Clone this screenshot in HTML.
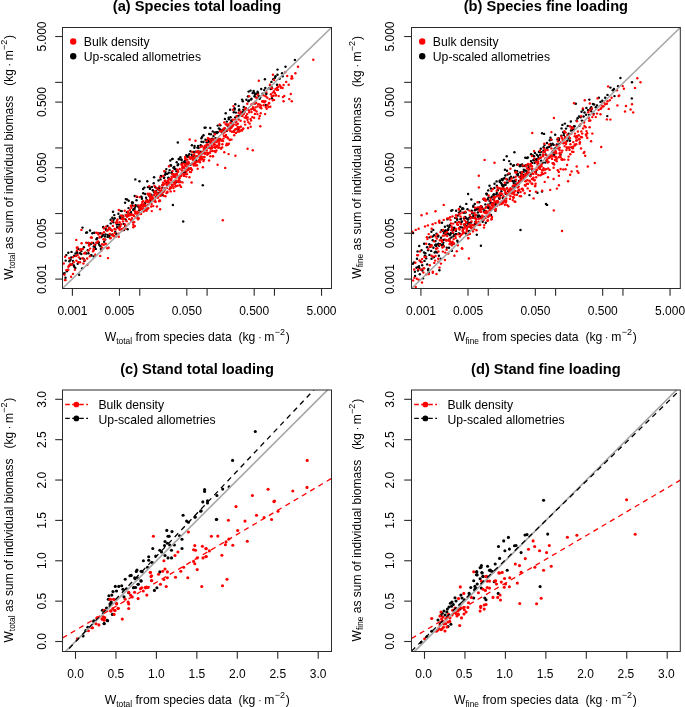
<!DOCTYPE html><html><head><meta charset="utf-8"><style>html,body{margin:0;padding:0;background:#fff;}svg{display:block;will-change:transform;}</style></head><body><svg width="685" height="707" viewBox="0 0 685 707" font-family='"Liberation Sans", sans-serif' font-size="12" fill="#000">
<rect width="685" height="707" fill="#fff"/>
<g fill="#000"><circle cx="63.7" cy="273.8" r="1.22"/><circle cx="64.6" cy="273.1" r="1.22"/><circle cx="65.5" cy="277.7" r="1.22"/><circle cx="65.7" cy="260.6" r="1.22"/><circle cx="66.3" cy="255.1" r="1.22"/><circle cx="66.9" cy="271.3" r="1.22"/><circle cx="68.3" cy="252.8" r="1.22"/><circle cx="68.1" cy="269.6" r="1.22"/><circle cx="69.6" cy="265.2" r="1.22"/><circle cx="69.4" cy="261.3" r="1.22"/><circle cx="70.5" cy="259.7" r="1.22"/><circle cx="71.2" cy="257.5" r="1.22"/><circle cx="71.5" cy="251.9" r="1.22"/><circle cx="72.3" cy="264.1" r="1.22"/><circle cx="73.0" cy="260.9" r="1.22"/><circle cx="73.9" cy="265.5" r="1.22"/><circle cx="74.2" cy="255.7" r="1.22"/><circle cx="74.2" cy="266.7" r="1.22"/><circle cx="75.5" cy="253.4" r="1.22"/><circle cx="75.3" cy="267.9" r="1.22"/><circle cx="76.1" cy="255.7" r="1.22"/><circle cx="76.9" cy="251.4" r="1.22"/><circle cx="77.3" cy="252.9" r="1.22"/><circle cx="77.7" cy="263.7" r="1.22"/><circle cx="78.4" cy="248.9" r="1.22"/><circle cx="79.1" cy="274.7" r="1.22"/><circle cx="80.0" cy="253.2" r="1.22"/><circle cx="80.3" cy="258.8" r="1.22"/><circle cx="81.4" cy="251.1" r="1.22"/><circle cx="81.3" cy="254.0" r="1.22"/><circle cx="82.1" cy="268.5" r="1.22"/><circle cx="82.5" cy="227.6" r="1.22"/><circle cx="83.5" cy="258.6" r="1.22"/><circle cx="83.9" cy="247.3" r="1.22"/><circle cx="84.4" cy="261.0" r="1.22"/><circle cx="85.2" cy="252.7" r="1.22"/><circle cx="86.2" cy="232.7" r="1.22"/><circle cx="86.2" cy="253.5" r="1.22"/><circle cx="87.0" cy="232.4" r="1.22"/><circle cx="87.8" cy="250.2" r="1.22"/><circle cx="88.3" cy="243.0" r="1.22"/><circle cx="88.4" cy="253.3" r="1.22"/><circle cx="89.2" cy="245.1" r="1.22"/><circle cx="90.0" cy="230.5" r="1.22"/><circle cx="90.7" cy="255.4" r="1.22"/><circle cx="91.1" cy="243.7" r="1.22"/><circle cx="91.4" cy="255.2" r="1.22"/><circle cx="92.4" cy="233.3" r="1.22"/><circle cx="93.2" cy="242.9" r="1.22"/><circle cx="93.7" cy="256.4" r="1.22"/><circle cx="93.7" cy="246.5" r="1.22"/><circle cx="94.3" cy="232.8" r="1.22"/><circle cx="95.0" cy="247.1" r="1.22"/><circle cx="95.2" cy="244.7" r="1.22"/><circle cx="95.8" cy="248.9" r="1.22"/><circle cx="96.5" cy="239.2" r="1.22"/><circle cx="97.1" cy="238.2" r="1.22"/><circle cx="98.1" cy="233.3" r="1.22"/><circle cx="97.9" cy="242.9" r="1.22"/><circle cx="98.8" cy="242.5" r="1.22"/><circle cx="99.2" cy="244.8" r="1.22"/><circle cx="100.5" cy="246.2" r="1.22"/><circle cx="100.3" cy="233.2" r="1.22"/><circle cx="100.9" cy="248.9" r="1.22"/><circle cx="101.4" cy="237.0" r="1.22"/><circle cx="102.4" cy="235.9" r="1.22"/><circle cx="103.2" cy="226.9" r="1.22"/><circle cx="103.1" cy="234.8" r="1.22"/><circle cx="104.1" cy="241.8" r="1.22"/><circle cx="104.9" cy="236.5" r="1.22"/><circle cx="105.2" cy="239.6" r="1.22"/><circle cx="105.5" cy="234.5" r="1.22"/><circle cx="105.8" cy="229.1" r="1.22"/><circle cx="106.4" cy="230.3" r="1.22"/><circle cx="107.6" cy="236.9" r="1.22"/><circle cx="107.5" cy="226.0" r="1.22"/><circle cx="107.8" cy="234.9" r="1.22"/><circle cx="109.1" cy="228.2" r="1.22"/><circle cx="109.4" cy="237.0" r="1.22"/><circle cx="109.7" cy="234.8" r="1.22"/><circle cx="110.7" cy="223.4" r="1.22"/><circle cx="110.6" cy="219.7" r="1.22"/><circle cx="111.0" cy="229.8" r="1.22"/><circle cx="112.3" cy="234.4" r="1.22"/><circle cx="112.3" cy="217.7" r="1.22"/><circle cx="113.3" cy="222.3" r="1.22"/><circle cx="113.0" cy="211.7" r="1.22"/><circle cx="113.5" cy="219.8" r="1.22"/><circle cx="114.3" cy="215.1" r="1.22"/><circle cx="114.7" cy="218.2" r="1.22"/><circle cx="115.2" cy="231.9" r="1.22"/><circle cx="116.1" cy="233.8" r="1.22"/><circle cx="116.9" cy="224.5" r="1.22"/><circle cx="117.2" cy="227.2" r="1.22"/><circle cx="117.6" cy="227.4" r="1.22"/><circle cx="118.4" cy="213.8" r="1.22"/><circle cx="119.0" cy="224.6" r="1.22"/><circle cx="119.6" cy="226.8" r="1.22"/><circle cx="119.8" cy="216.8" r="1.22"/><circle cx="120.5" cy="216.2" r="1.22"/><circle cx="120.3" cy="218.3" r="1.22"/><circle cx="120.7" cy="210.9" r="1.22"/><circle cx="121.8" cy="211.1" r="1.22"/><circle cx="122.7" cy="215.8" r="1.22"/><circle cx="122.4" cy="218.2" r="1.22"/><circle cx="123.2" cy="216.6" r="1.22"/><circle cx="123.7" cy="223.9" r="1.22"/><circle cx="123.9" cy="230.1" r="1.22"/><circle cx="125.2" cy="226.1" r="1.22"/><circle cx="125.6" cy="219.5" r="1.22"/><circle cx="125.8" cy="199.1" r="1.22"/><circle cx="125.7" cy="226.1" r="1.22"/><circle cx="127.0" cy="212.2" r="1.22"/><circle cx="127.0" cy="199.5" r="1.22"/><circle cx="127.6" cy="229.2" r="1.22"/><circle cx="128.3" cy="215.6" r="1.22"/><circle cx="128.5" cy="208.1" r="1.22"/><circle cx="128.7" cy="200.7" r="1.22"/><circle cx="129.4" cy="214.8" r="1.22"/><circle cx="129.7" cy="214.0" r="1.22"/><circle cx="130.6" cy="213.3" r="1.22"/><circle cx="131.1" cy="212.1" r="1.22"/><circle cx="132.0" cy="202.7" r="1.22"/><circle cx="132.1" cy="205.5" r="1.22"/><circle cx="132.2" cy="202.4" r="1.22"/><circle cx="132.9" cy="202.7" r="1.22"/><circle cx="133.3" cy="209.9" r="1.22"/><circle cx="133.8" cy="208.9" r="1.22"/><circle cx="134.6" cy="208.7" r="1.22"/><circle cx="134.7" cy="196.0" r="1.22"/><circle cx="135.1" cy="206.8" r="1.22"/><circle cx="135.6" cy="205.1" r="1.22"/><circle cx="136.5" cy="200.2" r="1.22"/><circle cx="136.9" cy="196.9" r="1.22"/><circle cx="137.7" cy="205.6" r="1.22"/><circle cx="137.7" cy="206.2" r="1.22"/><circle cx="138.0" cy="214.8" r="1.22"/><circle cx="139.0" cy="207.5" r="1.22"/><circle cx="139.4" cy="210.3" r="1.22"/><circle cx="139.5" cy="181.2" r="1.22"/><circle cx="140.0" cy="209.3" r="1.22"/><circle cx="141.1" cy="196.8" r="1.22"/><circle cx="140.9" cy="206.9" r="1.22"/><circle cx="141.5" cy="196.9" r="1.22"/><circle cx="141.9" cy="198.7" r="1.22"/><circle cx="142.2" cy="205.4" r="1.22"/><circle cx="143.2" cy="193.2" r="1.22"/><circle cx="143.1" cy="189.0" r="1.22"/><circle cx="144.4" cy="209.1" r="1.22"/><circle cx="144.4" cy="187.6" r="1.22"/><circle cx="145.0" cy="203.2" r="1.22"/><circle cx="145.2" cy="194.0" r="1.22"/><circle cx="146.1" cy="197.8" r="1.22"/><circle cx="146.7" cy="199.9" r="1.22"/><circle cx="146.4" cy="201.4" r="1.22"/><circle cx="147.3" cy="181.3" r="1.22"/><circle cx="147.9" cy="187.1" r="1.22"/><circle cx="148.7" cy="201.7" r="1.22"/><circle cx="149.2" cy="195.7" r="1.22"/><circle cx="149.7" cy="187.4" r="1.22"/><circle cx="149.9" cy="200.4" r="1.22"/><circle cx="150.0" cy="188.9" r="1.22"/><circle cx="150.8" cy="202.4" r="1.22"/><circle cx="151.4" cy="194.8" r="1.22"/><circle cx="151.5" cy="196.2" r="1.22"/><circle cx="151.9" cy="187.0" r="1.22"/><circle cx="152.8" cy="190.3" r="1.22"/><circle cx="153.7" cy="183.3" r="1.22"/><circle cx="154.1" cy="177.2" r="1.22"/><circle cx="153.9" cy="191.7" r="1.22"/><circle cx="154.7" cy="192.7" r="1.22"/><circle cx="155.4" cy="187.3" r="1.22"/><circle cx="155.9" cy="192.4" r="1.22"/><circle cx="155.8" cy="197.0" r="1.22"/><circle cx="156.2" cy="191.1" r="1.22"/><circle cx="157.0" cy="193.5" r="1.22"/><circle cx="157.6" cy="188.7" r="1.22"/><circle cx="158.5" cy="180.5" r="1.22"/><circle cx="159.0" cy="188.3" r="1.22"/><circle cx="158.9" cy="189.7" r="1.22"/><circle cx="159.3" cy="192.7" r="1.22"/><circle cx="160.5" cy="179.4" r="1.22"/><circle cx="160.9" cy="176.0" r="1.22"/><circle cx="161.5" cy="195.3" r="1.22"/><circle cx="161.3" cy="176.3" r="1.22"/><circle cx="162.5" cy="184.9" r="1.22"/><circle cx="162.2" cy="187.6" r="1.22"/><circle cx="162.6" cy="194.8" r="1.22"/><circle cx="163.9" cy="177.7" r="1.22"/><circle cx="164.2" cy="177.6" r="1.22"/><circle cx="164.9" cy="188.8" r="1.22"/><circle cx="165.1" cy="174.8" r="1.22"/><circle cx="165.4" cy="171.7" r="1.22"/><circle cx="165.7" cy="173.8" r="1.22"/><circle cx="166.3" cy="169.1" r="1.22"/><circle cx="167.1" cy="182.6" r="1.22"/><circle cx="167.2" cy="173.9" r="1.22"/><circle cx="168.4" cy="177.6" r="1.22"/><circle cx="168.5" cy="178.3" r="1.22"/><circle cx="168.8" cy="172.8" r="1.22"/><circle cx="169.6" cy="170.1" r="1.22"/><circle cx="170.3" cy="160.5" r="1.22"/><circle cx="170.5" cy="165.3" r="1.22"/><circle cx="171.0" cy="165.5" r="1.22"/><circle cx="171.8" cy="173.3" r="1.22"/><circle cx="171.7" cy="172.2" r="1.22"/><circle cx="172.2" cy="159.0" r="1.22"/><circle cx="172.6" cy="158.9" r="1.22"/><circle cx="173.6" cy="175.0" r="1.22"/><circle cx="173.4" cy="167.7" r="1.22"/><circle cx="174.3" cy="166.9" r="1.22"/><circle cx="174.6" cy="169.0" r="1.22"/><circle cx="175.6" cy="169.2" r="1.22"/><circle cx="175.7" cy="182.3" r="1.22"/><circle cx="176.7" cy="162.3" r="1.22"/><circle cx="176.5" cy="171.2" r="1.22"/><circle cx="177.8" cy="142.5" r="1.22"/><circle cx="177.7" cy="165.3" r="1.22"/><circle cx="178.2" cy="164.3" r="1.22"/><circle cx="178.7" cy="159.0" r="1.22"/><circle cx="179.1" cy="159.2" r="1.22"/><circle cx="180.2" cy="181.7" r="1.22"/><circle cx="180.4" cy="157.2" r="1.22"/><circle cx="181.4" cy="159.5" r="1.22"/><circle cx="181.6" cy="160.1" r="1.22"/><circle cx="181.7" cy="163.8" r="1.22"/><circle cx="182.1" cy="162.7" r="1.22"/><circle cx="182.7" cy="167.8" r="1.22"/><circle cx="183.9" cy="172.7" r="1.22"/><circle cx="184.2" cy="161.9" r="1.22"/><circle cx="184.9" cy="162.9" r="1.22"/><circle cx="185.0" cy="160.6" r="1.22"/><circle cx="185.4" cy="171.8" r="1.22"/><circle cx="186.3" cy="155.1" r="1.22"/><circle cx="186.5" cy="162.8" r="1.22"/><circle cx="187.3" cy="156.5" r="1.22"/><circle cx="187.3" cy="156.4" r="1.22"/><circle cx="188.6" cy="169.5" r="1.22"/><circle cx="188.5" cy="155.7" r="1.22"/><circle cx="188.8" cy="157.0" r="1.22"/><circle cx="189.3" cy="154.1" r="1.22"/><circle cx="190.5" cy="151.2" r="1.22"/><circle cx="190.5" cy="164.7" r="1.22"/><circle cx="191.8" cy="154.6" r="1.22"/><circle cx="192.1" cy="157.2" r="1.22"/><circle cx="191.9" cy="145.3" r="1.22"/><circle cx="192.4" cy="155.2" r="1.22"/><circle cx="193.7" cy="155.7" r="1.22"/><circle cx="193.6" cy="151.9" r="1.22"/><circle cx="194.4" cy="147.7" r="1.22"/><circle cx="194.6" cy="146.0" r="1.22"/><circle cx="195.5" cy="151.7" r="1.22"/><circle cx="196.3" cy="160.5" r="1.22"/><circle cx="196.2" cy="152.1" r="1.22"/><circle cx="197.5" cy="147.6" r="1.22"/><circle cx="198.1" cy="146.0" r="1.22"/><circle cx="198.5" cy="148.0" r="1.22"/><circle cx="199.0" cy="151.6" r="1.22"/><circle cx="199.6" cy="152.5" r="1.22"/><circle cx="199.8" cy="152.3" r="1.22"/><circle cx="200.7" cy="151.7" r="1.22"/><circle cx="200.7" cy="145.2" r="1.22"/><circle cx="201.4" cy="138.2" r="1.22"/><circle cx="201.5" cy="141.7" r="1.22"/><circle cx="202.2" cy="136.8" r="1.22"/><circle cx="203.4" cy="142.0" r="1.22"/><circle cx="203.5" cy="135.3" r="1.22"/><circle cx="203.8" cy="153.0" r="1.22"/><circle cx="204.6" cy="127.7" r="1.22"/><circle cx="205.6" cy="127.6" r="1.22"/><circle cx="205.4" cy="139.8" r="1.22"/><circle cx="206.6" cy="142.2" r="1.22"/><circle cx="206.8" cy="147.9" r="1.22"/><circle cx="207.4" cy="140.0" r="1.22"/><circle cx="208.1" cy="139.7" r="1.22"/><circle cx="208.9" cy="141.7" r="1.22"/><circle cx="208.7" cy="139.4" r="1.22"/><circle cx="209.2" cy="134.0" r="1.22"/><circle cx="210.3" cy="128.0" r="1.22"/><circle cx="210.7" cy="139.5" r="1.22"/><circle cx="210.9" cy="134.2" r="1.22"/><circle cx="211.5" cy="139.2" r="1.22"/><circle cx="212.5" cy="138.8" r="1.22"/><circle cx="212.7" cy="131.4" r="1.22"/><circle cx="213.5" cy="136.1" r="1.22"/><circle cx="214.4" cy="132.7" r="1.22"/><circle cx="214.8" cy="141.3" r="1.22"/><circle cx="215.4" cy="132.4" r="1.22"/><circle cx="215.5" cy="138.1" r="1.22"/><circle cx="216.8" cy="132.2" r="1.22"/><circle cx="216.8" cy="133.0" r="1.22"/><circle cx="217.7" cy="125.6" r="1.22"/><circle cx="217.8" cy="132.2" r="1.22"/><circle cx="218.9" cy="128.4" r="1.22"/><circle cx="220.0" cy="130.7" r="1.22"/><circle cx="220.1" cy="129.5" r="1.22"/><circle cx="220.3" cy="125.2" r="1.22"/><circle cx="221.7" cy="132.1" r="1.22"/><circle cx="222.2" cy="130.3" r="1.22"/><circle cx="222.9" cy="132.5" r="1.22"/><circle cx="223.6" cy="129.5" r="1.22"/><circle cx="223.6" cy="130.4" r="1.22"/><circle cx="224.9" cy="118.9" r="1.22"/><circle cx="224.8" cy="128.4" r="1.22"/><circle cx="225.7" cy="113.3" r="1.22"/><circle cx="226.8" cy="121.6" r="1.22"/><circle cx="226.8" cy="130.8" r="1.22"/><circle cx="227.5" cy="125.5" r="1.22"/><circle cx="228.7" cy="117.7" r="1.22"/><circle cx="228.8" cy="119.2" r="1.22"/><circle cx="230.1" cy="109.7" r="1.22"/><circle cx="230.6" cy="117.3" r="1.22"/><circle cx="231.3" cy="120.4" r="1.22"/><circle cx="231.7" cy="121.5" r="1.22"/><circle cx="232.5" cy="124.3" r="1.22"/><circle cx="233.8" cy="112.3" r="1.22"/><circle cx="234.5" cy="108.2" r="1.22"/><circle cx="235.2" cy="117.4" r="1.22"/><circle cx="235.3" cy="104.3" r="1.22"/><circle cx="235.9" cy="112.6" r="1.22"/><circle cx="237.3" cy="116.1" r="1.22"/><circle cx="237.9" cy="129.6" r="1.22"/><circle cx="238.6" cy="115.9" r="1.22"/><circle cx="239.0" cy="110.4" r="1.22"/><circle cx="240.4" cy="115.1" r="1.22"/><circle cx="241.3" cy="112.6" r="1.22"/><circle cx="242.1" cy="99.6" r="1.22"/><circle cx="242.8" cy="112.1" r="1.22"/><circle cx="243.3" cy="109.7" r="1.22"/><circle cx="244.6" cy="111.1" r="1.22"/><circle cx="245.0" cy="110.2" r="1.22"/><circle cx="246.0" cy="108.5" r="1.22"/><circle cx="246.4" cy="99.8" r="1.22"/><circle cx="247.9" cy="96.4" r="1.22"/><circle cx="248.6" cy="91.6" r="1.22"/><circle cx="249.0" cy="100.4" r="1.22"/><circle cx="250.5" cy="90.6" r="1.22"/><circle cx="251.1" cy="99.6" r="1.22"/><circle cx="252.6" cy="93.1" r="1.22"/><circle cx="253.6" cy="91.0" r="1.22"/><circle cx="254.1" cy="92.5" r="1.22"/><circle cx="255.2" cy="96.6" r="1.22"/><circle cx="256.5" cy="93.7" r="1.22"/><circle cx="257.6" cy="91.8" r="1.22"/><circle cx="258.8" cy="97.6" r="1.22"/><circle cx="259.7" cy="98.8" r="1.22"/><circle cx="261.2" cy="89.0" r="1.22"/><circle cx="262.7" cy="93.7" r="1.22"/><circle cx="264.9" cy="79.2" r="1.22"/><circle cx="266.3" cy="94.0" r="1.22"/><circle cx="268.9" cy="88.3" r="1.22"/><circle cx="271.1" cy="86.2" r="1.22"/><circle cx="273.3" cy="79.3" r="1.22"/><circle cx="277.5" cy="69.6" r="1.22"/><circle cx="294.9" cy="59.9" r="1.22"/><circle cx="285.5" cy="66.8" r="1.22"/><circle cx="282.1" cy="73.2" r="1.22"/><circle cx="282.6" cy="76.3" r="1.22"/><circle cx="277.5" cy="74.7" r="1.22"/><circle cx="275.5" cy="76.3" r="1.22"/><circle cx="275" cy="77.8" r="1.22"/><circle cx="279.6" cy="78.8" r="1.22"/><circle cx="271.4" cy="81.9" r="1.22"/><circle cx="269.9" cy="85" r="1.22"/><circle cx="277" cy="84.8" r="1.22"/><circle cx="271.9" cy="88" r="1.22"/><circle cx="270.9" cy="89" r="1.22"/><circle cx="265.3" cy="88" r="1.22"/><circle cx="264.2" cy="90.1" r="1.22"/><circle cx="266.3" cy="93.1" r="1.22"/><circle cx="258.1" cy="93.1" r="1.22"/><circle cx="255" cy="94.2" r="1.22"/><circle cx="254.5" cy="96.2" r="1.22"/><circle cx="258.6" cy="95.7" r="1.22"/><circle cx="260.1" cy="97.2" r="1.22"/><circle cx="251.5" cy="98.8" r="1.22"/><circle cx="248.4" cy="101.3" r="1.22"/><circle cx="242.8" cy="101.3" r="1.22"/><circle cx="238.7" cy="105.9" r="1.22"/><circle cx="243.8" cy="106.9" r="1.22"/><circle cx="255" cy="103.4" r="1.22"/><circle cx="265.8" cy="104.9" r="1.22"/><circle cx="271.9" cy="98.2" r="1.22"/><circle cx="234.6" cy="109.5" r="1.22"/><circle cx="239.2" cy="109.5" r="1.22"/><circle cx="135.3" cy="179.4" r="1.22"/><circle cx="183.2" cy="221.5" r="1.22"/><circle cx="172.9" cy="205" r="1.22"/><circle cx="125.1" cy="202.7" r="1.22"/><circle cx="202.8" cy="185.2" r="1.22"/></g>
<g fill="#f00"><circle cx="63.7" cy="263.5" r="1.22"/><circle cx="64.5" cy="274.8" r="1.22"/><circle cx="64.9" cy="280.1" r="1.22"/><circle cx="65.6" cy="280.1" r="1.22"/><circle cx="66.3" cy="270.1" r="1.22"/><circle cx="68.0" cy="269.9" r="1.22"/><circle cx="68.4" cy="266.8" r="1.22"/><circle cx="69.0" cy="265.9" r="1.22"/><circle cx="69.3" cy="258.2" r="1.22"/><circle cx="70.3" cy="264.3" r="1.22"/><circle cx="71.1" cy="276.7" r="1.22"/><circle cx="71.8" cy="264.7" r="1.22"/><circle cx="73.0" cy="257.1" r="1.22"/><circle cx="73.0" cy="273.9" r="1.22"/><circle cx="73.7" cy="262.3" r="1.22"/><circle cx="74.9" cy="269.7" r="1.22"/><circle cx="75.7" cy="256.1" r="1.22"/><circle cx="76.4" cy="260.8" r="1.22"/><circle cx="77.1" cy="250.5" r="1.22"/><circle cx="77.6" cy="255.0" r="1.22"/><circle cx="77.5" cy="247.5" r="1.22"/><circle cx="78.3" cy="262.2" r="1.22"/><circle cx="78.9" cy="257.4" r="1.22"/><circle cx="80.0" cy="262.3" r="1.22"/><circle cx="80.3" cy="250.3" r="1.22"/><circle cx="80.9" cy="249.2" r="1.22"/><circle cx="81.6" cy="243.2" r="1.22"/><circle cx="82.4" cy="258.3" r="1.22"/><circle cx="82.9" cy="249.0" r="1.22"/><circle cx="83.4" cy="263.5" r="1.22"/><circle cx="84.2" cy="253.4" r="1.22"/><circle cx="84.8" cy="260.3" r="1.22"/><circle cx="85.3" cy="253.0" r="1.22"/><circle cx="86.2" cy="242.7" r="1.22"/><circle cx="87.4" cy="264.8" r="1.22"/><circle cx="87.2" cy="258.5" r="1.22"/><circle cx="88.6" cy="250.6" r="1.22"/><circle cx="89.0" cy="245.5" r="1.22"/><circle cx="89.0" cy="243.0" r="1.22"/><circle cx="89.9" cy="256.3" r="1.22"/><circle cx="90.1" cy="248.6" r="1.22"/><circle cx="90.9" cy="237.5" r="1.22"/><circle cx="91.8" cy="242.7" r="1.22"/><circle cx="91.9" cy="237.7" r="1.22"/><circle cx="93.0" cy="251.3" r="1.22"/><circle cx="93.9" cy="250.0" r="1.22"/><circle cx="93.6" cy="248.9" r="1.22"/><circle cx="94.4" cy="245.0" r="1.22"/><circle cx="95.3" cy="254.7" r="1.22"/><circle cx="96.3" cy="232.7" r="1.22"/><circle cx="96.6" cy="242.7" r="1.22"/><circle cx="96.5" cy="242.6" r="1.22"/><circle cx="97.8" cy="233.0" r="1.22"/><circle cx="98.1" cy="241.4" r="1.22"/><circle cx="98.5" cy="234.5" r="1.22"/><circle cx="99.5" cy="237.5" r="1.22"/><circle cx="100.0" cy="236.9" r="1.22"/><circle cx="100.2" cy="255.9" r="1.22"/><circle cx="101.3" cy="250.7" r="1.22"/><circle cx="101.8" cy="233.5" r="1.22"/><circle cx="102.1" cy="247.6" r="1.22"/><circle cx="102.1" cy="244.2" r="1.22"/><circle cx="103.5" cy="239.2" r="1.22"/><circle cx="103.7" cy="244.8" r="1.22"/><circle cx="103.9" cy="228.2" r="1.22"/><circle cx="104.0" cy="232.3" r="1.22"/><circle cx="105.0" cy="239.6" r="1.22"/><circle cx="105.6" cy="244.1" r="1.22"/><circle cx="105.7" cy="243.6" r="1.22"/><circle cx="106.1" cy="226.8" r="1.22"/><circle cx="107.3" cy="248.2" r="1.22"/><circle cx="107.2" cy="230.5" r="1.22"/><circle cx="107.5" cy="230.2" r="1.22"/><circle cx="108.6" cy="247.7" r="1.22"/><circle cx="108.8" cy="229.1" r="1.22"/><circle cx="109.5" cy="227.7" r="1.22"/><circle cx="109.8" cy="233.9" r="1.22"/><circle cx="110.0" cy="229.3" r="1.22"/><circle cx="110.2" cy="238.3" r="1.22"/><circle cx="110.7" cy="237.9" r="1.22"/><circle cx="111.8" cy="230.2" r="1.22"/><circle cx="112.1" cy="230.7" r="1.22"/><circle cx="112.4" cy="235.3" r="1.22"/><circle cx="112.1" cy="221.2" r="1.22"/><circle cx="112.9" cy="225.9" r="1.22"/><circle cx="113.0" cy="234.8" r="1.22"/><circle cx="113.9" cy="236.2" r="1.22"/><circle cx="114.5" cy="236.1" r="1.22"/><circle cx="114.7" cy="233.1" r="1.22"/><circle cx="114.5" cy="229.0" r="1.22"/><circle cx="115.5" cy="229.5" r="1.22"/><circle cx="115.9" cy="222.8" r="1.22"/><circle cx="116.2" cy="236.6" r="1.22"/><circle cx="116.9" cy="220.9" r="1.22"/><circle cx="117.3" cy="222.7" r="1.22"/><circle cx="117.3" cy="222.4" r="1.22"/><circle cx="117.5" cy="219.4" r="1.22"/><circle cx="118.4" cy="233.7" r="1.22"/><circle cx="118.5" cy="228.3" r="1.22"/><circle cx="118.8" cy="236.8" r="1.22"/><circle cx="118.8" cy="210.0" r="1.22"/><circle cx="119.4" cy="227.6" r="1.22"/><circle cx="119.6" cy="222.2" r="1.22"/><circle cx="119.7" cy="229.7" r="1.22"/><circle cx="120.5" cy="226.1" r="1.22"/><circle cx="121.1" cy="224.1" r="1.22"/><circle cx="121.4" cy="229.1" r="1.22"/><circle cx="121.1" cy="215.5" r="1.22"/><circle cx="121.9" cy="218.9" r="1.22"/><circle cx="122.6" cy="230.3" r="1.22"/><circle cx="123.0" cy="221.4" r="1.22"/><circle cx="122.6" cy="216.2" r="1.22"/><circle cx="123.3" cy="218.4" r="1.22"/><circle cx="123.4" cy="228.5" r="1.22"/><circle cx="124.2" cy="218.9" r="1.22"/><circle cx="124.7" cy="210.7" r="1.22"/><circle cx="124.6" cy="227.9" r="1.22"/><circle cx="125.0" cy="224.4" r="1.22"/><circle cx="125.7" cy="228.6" r="1.22"/><circle cx="125.6" cy="214.9" r="1.22"/><circle cx="126.0" cy="225.9" r="1.22"/><circle cx="126.6" cy="221.2" r="1.22"/><circle cx="126.2" cy="216.1" r="1.22"/><circle cx="127.1" cy="215.3" r="1.22"/><circle cx="127.1" cy="216.8" r="1.22"/><circle cx="127.8" cy="211.8" r="1.22"/><circle cx="128.0" cy="215.8" r="1.22"/><circle cx="128.2" cy="214.9" r="1.22"/><circle cx="128.2" cy="211.7" r="1.22"/><circle cx="128.3" cy="213.3" r="1.22"/><circle cx="128.7" cy="223.9" r="1.22"/><circle cx="129.1" cy="218.9" r="1.22"/><circle cx="129.6" cy="215.4" r="1.22"/><circle cx="130.0" cy="210.0" r="1.22"/><circle cx="130.5" cy="214.3" r="1.22"/><circle cx="130.7" cy="219.6" r="1.22"/><circle cx="131.2" cy="220.9" r="1.22"/><circle cx="130.8" cy="205.7" r="1.22"/><circle cx="131.7" cy="215.1" r="1.22"/><circle cx="131.4" cy="207.8" r="1.22"/><circle cx="132.2" cy="214.6" r="1.22"/><circle cx="132.1" cy="218.1" r="1.22"/><circle cx="132.0" cy="220.3" r="1.22"/><circle cx="133.3" cy="224.7" r="1.22"/><circle cx="133.1" cy="222.5" r="1.22"/><circle cx="133.0" cy="214.9" r="1.22"/><circle cx="133.3" cy="227.3" r="1.22"/><circle cx="134.0" cy="215.9" r="1.22"/><circle cx="133.9" cy="205.8" r="1.22"/><circle cx="134.9" cy="226.1" r="1.22"/><circle cx="134.3" cy="222.1" r="1.22"/><circle cx="134.9" cy="211.3" r="1.22"/><circle cx="135.3" cy="213.5" r="1.22"/><circle cx="135.8" cy="212.9" r="1.22"/><circle cx="135.5" cy="213.1" r="1.22"/><circle cx="135.8" cy="217.6" r="1.22"/><circle cx="136.4" cy="196.4" r="1.22"/><circle cx="136.9" cy="217.2" r="1.22"/><circle cx="137.1" cy="216.2" r="1.22"/><circle cx="137.7" cy="214.3" r="1.22"/><circle cx="137.3" cy="211.6" r="1.22"/><circle cx="138.1" cy="219.3" r="1.22"/><circle cx="138.4" cy="213.1" r="1.22"/><circle cx="138.6" cy="218.2" r="1.22"/><circle cx="138.8" cy="213.0" r="1.22"/><circle cx="138.4" cy="205.6" r="1.22"/><circle cx="139.3" cy="208.1" r="1.22"/><circle cx="139.6" cy="197.1" r="1.22"/><circle cx="139.9" cy="214.0" r="1.22"/><circle cx="140.4" cy="209.5" r="1.22"/><circle cx="140.5" cy="207.4" r="1.22"/><circle cx="140.6" cy="208.5" r="1.22"/><circle cx="140.5" cy="205.3" r="1.22"/><circle cx="140.9" cy="207.1" r="1.22"/><circle cx="141.1" cy="213.9" r="1.22"/><circle cx="142.0" cy="209.1" r="1.22"/><circle cx="142.3" cy="206.1" r="1.22"/><circle cx="142.2" cy="209.0" r="1.22"/><circle cx="141.9" cy="204.2" r="1.22"/><circle cx="142.3" cy="202.1" r="1.22"/><circle cx="143.0" cy="201.3" r="1.22"/><circle cx="143.2" cy="208.1" r="1.22"/><circle cx="143.3" cy="209.9" r="1.22"/><circle cx="143.5" cy="211.5" r="1.22"/><circle cx="143.7" cy="205.7" r="1.22"/><circle cx="143.9" cy="204.2" r="1.22"/><circle cx="144.3" cy="205.3" r="1.22"/><circle cx="145.2" cy="206.1" r="1.22"/><circle cx="144.6" cy="210.5" r="1.22"/><circle cx="145.7" cy="201.5" r="1.22"/><circle cx="145.5" cy="205.3" r="1.22"/><circle cx="146.3" cy="209.4" r="1.22"/><circle cx="146.2" cy="207.8" r="1.22"/><circle cx="146.0" cy="208.0" r="1.22"/><circle cx="146.6" cy="210.7" r="1.22"/><circle cx="146.8" cy="200.5" r="1.22"/><circle cx="147.2" cy="201.7" r="1.22"/><circle cx="147.8" cy="208.7" r="1.22"/><circle cx="147.8" cy="193.8" r="1.22"/><circle cx="148.1" cy="194.6" r="1.22"/><circle cx="148.0" cy="204.9" r="1.22"/><circle cx="148.4" cy="208.1" r="1.22"/><circle cx="148.9" cy="201.3" r="1.22"/><circle cx="149.3" cy="186.1" r="1.22"/><circle cx="148.7" cy="202.4" r="1.22"/><circle cx="149.5" cy="195.3" r="1.22"/><circle cx="149.7" cy="193.8" r="1.22"/><circle cx="150.0" cy="196.3" r="1.22"/><circle cx="150.0" cy="199.3" r="1.22"/><circle cx="150.6" cy="195.1" r="1.22"/><circle cx="150.2" cy="197.6" r="1.22"/><circle cx="151.2" cy="206.5" r="1.22"/><circle cx="151.1" cy="197.7" r="1.22"/><circle cx="151.6" cy="204.0" r="1.22"/><circle cx="151.5" cy="199.5" r="1.22"/><circle cx="151.8" cy="211.1" r="1.22"/><circle cx="151.7" cy="197.1" r="1.22"/><circle cx="152.5" cy="197.3" r="1.22"/><circle cx="152.8" cy="197.7" r="1.22"/><circle cx="152.6" cy="200.4" r="1.22"/><circle cx="152.7" cy="199.5" r="1.22"/><circle cx="153.2" cy="206.1" r="1.22"/><circle cx="153.5" cy="199.4" r="1.22"/><circle cx="154.1" cy="194.9" r="1.22"/><circle cx="154.6" cy="191.5" r="1.22"/><circle cx="154.7" cy="199.5" r="1.22"/><circle cx="154.5" cy="186.0" r="1.22"/><circle cx="154.6" cy="201.2" r="1.22"/><circle cx="155.0" cy="200.6" r="1.22"/><circle cx="155.1" cy="192.9" r="1.22"/><circle cx="155.9" cy="191.7" r="1.22"/><circle cx="155.6" cy="201.9" r="1.22"/><circle cx="156.5" cy="188.3" r="1.22"/><circle cx="156.4" cy="194.1" r="1.22"/><circle cx="157.1" cy="193.7" r="1.22"/><circle cx="156.9" cy="196.5" r="1.22"/><circle cx="156.7" cy="195.8" r="1.22"/><circle cx="156.9" cy="206.5" r="1.22"/><circle cx="157.2" cy="196.9" r="1.22"/><circle cx="157.6" cy="197.5" r="1.22"/><circle cx="158.1" cy="197.6" r="1.22"/><circle cx="158.8" cy="189.8" r="1.22"/><circle cx="158.5" cy="194.8" r="1.22"/><circle cx="159.2" cy="201.3" r="1.22"/><circle cx="159.4" cy="186.4" r="1.22"/><circle cx="159.6" cy="200.4" r="1.22"/><circle cx="160.0" cy="200.7" r="1.22"/><circle cx="160.1" cy="193.2" r="1.22"/><circle cx="159.9" cy="193.0" r="1.22"/><circle cx="160.1" cy="209.2" r="1.22"/><circle cx="160.2" cy="195.8" r="1.22"/><circle cx="160.3" cy="177.4" r="1.22"/><circle cx="160.6" cy="191.0" r="1.22"/><circle cx="160.8" cy="194.9" r="1.22"/><circle cx="161.5" cy="188.1" r="1.22"/><circle cx="161.4" cy="190.3" r="1.22"/><circle cx="161.7" cy="194.0" r="1.22"/><circle cx="161.8" cy="192.8" r="1.22"/><circle cx="162.1" cy="193.0" r="1.22"/><circle cx="163.0" cy="182.8" r="1.22"/><circle cx="162.7" cy="185.3" r="1.22"/><circle cx="163.1" cy="192.0" r="1.22"/><circle cx="163.3" cy="176.0" r="1.22"/><circle cx="163.9" cy="184.4" r="1.22"/><circle cx="163.9" cy="191.4" r="1.22"/><circle cx="164.2" cy="171.2" r="1.22"/><circle cx="163.8" cy="195.9" r="1.22"/><circle cx="164.8" cy="180.6" r="1.22"/><circle cx="164.4" cy="190.3" r="1.22"/><circle cx="165.4" cy="183.4" r="1.22"/><circle cx="165.4" cy="188.2" r="1.22"/><circle cx="165.1" cy="180.7" r="1.22"/><circle cx="165.2" cy="181.6" r="1.22"/><circle cx="165.5" cy="196.2" r="1.22"/><circle cx="166.4" cy="193.1" r="1.22"/><circle cx="166.9" cy="185.4" r="1.22"/><circle cx="167.0" cy="184.6" r="1.22"/><circle cx="167.3" cy="191.7" r="1.22"/><circle cx="167.4" cy="192.5" r="1.22"/><circle cx="167.0" cy="188.1" r="1.22"/><circle cx="167.4" cy="181.4" r="1.22"/><circle cx="167.8" cy="183.2" r="1.22"/><circle cx="167.9" cy="180.8" r="1.22"/><circle cx="168.2" cy="181.5" r="1.22"/><circle cx="168.8" cy="178.9" r="1.22"/><circle cx="168.9" cy="184.0" r="1.22"/><circle cx="169.0" cy="166.3" r="1.22"/><circle cx="169.4" cy="182.8" r="1.22"/><circle cx="169.5" cy="189.2" r="1.22"/><circle cx="169.4" cy="179.0" r="1.22"/><circle cx="169.7" cy="184.0" r="1.22"/><circle cx="170.3" cy="179.3" r="1.22"/><circle cx="170.7" cy="183.7" r="1.22"/><circle cx="170.9" cy="188.0" r="1.22"/><circle cx="170.4" cy="187.3" r="1.22"/><circle cx="170.7" cy="191.4" r="1.22"/><circle cx="171.5" cy="178.7" r="1.22"/><circle cx="171.1" cy="180.4" r="1.22"/><circle cx="171.6" cy="176.8" r="1.22"/><circle cx="171.9" cy="184.9" r="1.22"/><circle cx="172.4" cy="185.5" r="1.22"/><circle cx="172.3" cy="174.0" r="1.22"/><circle cx="172.5" cy="171.1" r="1.22"/><circle cx="173.0" cy="182.2" r="1.22"/><circle cx="172.5" cy="186.2" r="1.22"/><circle cx="172.9" cy="174.0" r="1.22"/><circle cx="173.5" cy="176.9" r="1.22"/><circle cx="173.4" cy="188.1" r="1.22"/><circle cx="174.3" cy="184.1" r="1.22"/><circle cx="173.8" cy="174.8" r="1.22"/><circle cx="174.8" cy="181.9" r="1.22"/><circle cx="174.3" cy="191.1" r="1.22"/><circle cx="174.9" cy="175.5" r="1.22"/><circle cx="175.1" cy="177.0" r="1.22"/><circle cx="175.1" cy="183.6" r="1.22"/><circle cx="175.1" cy="174.2" r="1.22"/><circle cx="175.3" cy="186.5" r="1.22"/><circle cx="176.0" cy="180.6" r="1.22"/><circle cx="176.6" cy="174.6" r="1.22"/><circle cx="176.0" cy="186.0" r="1.22"/><circle cx="176.4" cy="177.7" r="1.22"/><circle cx="177.1" cy="169.6" r="1.22"/><circle cx="177.0" cy="173.8" r="1.22"/><circle cx="177.7" cy="176.1" r="1.22"/><circle cx="177.6" cy="181.7" r="1.22"/><circle cx="177.6" cy="185.8" r="1.22"/><circle cx="178.2" cy="171.8" r="1.22"/><circle cx="177.8" cy="170.4" r="1.22"/><circle cx="178.4" cy="181.0" r="1.22"/><circle cx="178.7" cy="176.7" r="1.22"/><circle cx="178.9" cy="179.4" r="1.22"/><circle cx="179.5" cy="178.3" r="1.22"/><circle cx="179.2" cy="182.2" r="1.22"/><circle cx="179.7" cy="181.7" r="1.22"/><circle cx="179.7" cy="168.9" r="1.22"/><circle cx="179.8" cy="185.2" r="1.22"/><circle cx="180.2" cy="182.0" r="1.22"/><circle cx="180.3" cy="175.9" r="1.22"/><circle cx="180.4" cy="176.6" r="1.22"/><circle cx="181.0" cy="186.9" r="1.22"/><circle cx="181.3" cy="175.7" r="1.22"/><circle cx="180.9" cy="175.5" r="1.22"/><circle cx="181.5" cy="164.7" r="1.22"/><circle cx="181.7" cy="170.4" r="1.22"/><circle cx="181.7" cy="173.2" r="1.22"/><circle cx="182.5" cy="170.4" r="1.22"/><circle cx="182.5" cy="182.4" r="1.22"/><circle cx="182.3" cy="167.7" r="1.22"/><circle cx="182.9" cy="163.6" r="1.22"/><circle cx="182.6" cy="166.3" r="1.22"/><circle cx="183.7" cy="171.2" r="1.22"/><circle cx="183.3" cy="166.9" r="1.22"/><circle cx="184.0" cy="175.9" r="1.22"/><circle cx="184.0" cy="167.9" r="1.22"/><circle cx="183.6" cy="174.3" r="1.22"/><circle cx="184.8" cy="163.9" r="1.22"/><circle cx="184.5" cy="174.8" r="1.22"/><circle cx="185.1" cy="157.0" r="1.22"/><circle cx="185.3" cy="173.9" r="1.22"/><circle cx="185.6" cy="169.3" r="1.22"/><circle cx="185.2" cy="165.8" r="1.22"/><circle cx="185.2" cy="158.5" r="1.22"/><circle cx="186.1" cy="159.4" r="1.22"/><circle cx="186.3" cy="176.6" r="1.22"/><circle cx="186.5" cy="171.5" r="1.22"/><circle cx="186.3" cy="168.5" r="1.22"/><circle cx="187.0" cy="166.8" r="1.22"/><circle cx="187.2" cy="164.5" r="1.22"/><circle cx="187.1" cy="162.5" r="1.22"/><circle cx="187.1" cy="174.1" r="1.22"/><circle cx="188.1" cy="169.2" r="1.22"/><circle cx="187.4" cy="159.7" r="1.22"/><circle cx="188.0" cy="169.7" r="1.22"/><circle cx="188.4" cy="167.8" r="1.22"/><circle cx="188.3" cy="163.3" r="1.22"/><circle cx="189.0" cy="164.3" r="1.22"/><circle cx="188.7" cy="162.1" r="1.22"/><circle cx="189.7" cy="139.5" r="1.22"/><circle cx="189.4" cy="177.3" r="1.22"/><circle cx="189.6" cy="157.0" r="1.22"/><circle cx="189.9" cy="171.9" r="1.22"/><circle cx="190.3" cy="158.7" r="1.22"/><circle cx="190.3" cy="168.8" r="1.22"/><circle cx="191.0" cy="172.1" r="1.22"/><circle cx="191.0" cy="168.7" r="1.22"/><circle cx="190.9" cy="168.2" r="1.22"/><circle cx="191.4" cy="164.1" r="1.22"/><circle cx="191.1" cy="157.9" r="1.22"/><circle cx="191.6" cy="182.5" r="1.22"/><circle cx="191.9" cy="170.0" r="1.22"/><circle cx="191.7" cy="157.3" r="1.22"/><circle cx="192.2" cy="163.3" r="1.22"/><circle cx="192.3" cy="151.9" r="1.22"/><circle cx="192.8" cy="157.6" r="1.22"/><circle cx="193.2" cy="159.9" r="1.22"/><circle cx="192.7" cy="159.4" r="1.22"/><circle cx="193.5" cy="163.8" r="1.22"/><circle cx="193.2" cy="155.0" r="1.22"/><circle cx="193.5" cy="157.9" r="1.22"/><circle cx="194.3" cy="154.1" r="1.22"/><circle cx="193.8" cy="165.6" r="1.22"/><circle cx="194.9" cy="158.4" r="1.22"/><circle cx="194.7" cy="158.4" r="1.22"/><circle cx="194.9" cy="162.1" r="1.22"/><circle cx="194.6" cy="159.3" r="1.22"/><circle cx="195.2" cy="163.7" r="1.22"/><circle cx="195.5" cy="140.7" r="1.22"/><circle cx="196.1" cy="156.2" r="1.22"/><circle cx="195.7" cy="165.5" r="1.22"/><circle cx="196.2" cy="162.1" r="1.22"/><circle cx="196.3" cy="151.9" r="1.22"/><circle cx="196.2" cy="161.7" r="1.22"/><circle cx="197.0" cy="165.2" r="1.22"/><circle cx="197.5" cy="151.3" r="1.22"/><circle cx="197.7" cy="168.8" r="1.22"/><circle cx="197.4" cy="151.9" r="1.22"/><circle cx="197.5" cy="156.3" r="1.22"/><circle cx="197.6" cy="152.1" r="1.22"/><circle cx="197.9" cy="161.6" r="1.22"/><circle cx="198.9" cy="151.7" r="1.22"/><circle cx="199.0" cy="159.9" r="1.22"/><circle cx="199.0" cy="156.4" r="1.22"/><circle cx="198.8" cy="153.8" r="1.22"/><circle cx="199.2" cy="153.4" r="1.22"/><circle cx="199.7" cy="159.8" r="1.22"/><circle cx="200.1" cy="154.3" r="1.22"/><circle cx="200.2" cy="155.9" r="1.22"/><circle cx="200.0" cy="158.0" r="1.22"/><circle cx="200.0" cy="162.3" r="1.22"/><circle cx="200.6" cy="147.0" r="1.22"/><circle cx="200.7" cy="153.1" r="1.22"/><circle cx="201.1" cy="154.2" r="1.22"/><circle cx="201.1" cy="159.6" r="1.22"/><circle cx="201.7" cy="156.7" r="1.22"/><circle cx="201.9" cy="152.9" r="1.22"/><circle cx="201.7" cy="152.3" r="1.22"/><circle cx="202.1" cy="152.4" r="1.22"/><circle cx="202.1" cy="158.8" r="1.22"/><circle cx="202.3" cy="146.3" r="1.22"/><circle cx="202.9" cy="153.3" r="1.22"/><circle cx="203.5" cy="161.0" r="1.22"/><circle cx="202.9" cy="167.3" r="1.22"/><circle cx="203.6" cy="150.8" r="1.22"/><circle cx="203.8" cy="157.3" r="1.22"/><circle cx="203.8" cy="148.0" r="1.22"/><circle cx="203.9" cy="151.4" r="1.22"/><circle cx="204.1" cy="159.6" r="1.22"/><circle cx="204.2" cy="149.3" r="1.22"/><circle cx="204.5" cy="156.9" r="1.22"/><circle cx="204.6" cy="147.5" r="1.22"/><circle cx="205.4" cy="152.9" r="1.22"/><circle cx="205.3" cy="153.9" r="1.22"/><circle cx="205.2" cy="145.6" r="1.22"/><circle cx="205.9" cy="149.4" r="1.22"/><circle cx="205.9" cy="146.2" r="1.22"/><circle cx="206.6" cy="150.4" r="1.22"/><circle cx="206.3" cy="148.9" r="1.22"/><circle cx="206.8" cy="144.5" r="1.22"/><circle cx="206.8" cy="140.9" r="1.22"/><circle cx="207.3" cy="154.7" r="1.22"/><circle cx="207.3" cy="152.8" r="1.22"/><circle cx="208.0" cy="138.1" r="1.22"/><circle cx="208.2" cy="138.8" r="1.22"/><circle cx="207.8" cy="144.5" r="1.22"/><circle cx="208.7" cy="147.8" r="1.22"/><circle cx="208.6" cy="145.2" r="1.22"/><circle cx="208.2" cy="153.8" r="1.22"/><circle cx="208.9" cy="146.4" r="1.22"/><circle cx="209.1" cy="160.5" r="1.22"/><circle cx="209.8" cy="153.1" r="1.22"/><circle cx="209.4" cy="152.9" r="1.22"/><circle cx="209.9" cy="138.9" r="1.22"/><circle cx="210.4" cy="143.1" r="1.22"/><circle cx="210.2" cy="140.6" r="1.22"/><circle cx="210.3" cy="148.2" r="1.22"/><circle cx="210.3" cy="156.2" r="1.22"/><circle cx="210.7" cy="151.2" r="1.22"/><circle cx="210.6" cy="148.2" r="1.22"/><circle cx="210.9" cy="142.2" r="1.22"/><circle cx="211.8" cy="142.2" r="1.22"/><circle cx="211.4" cy="145.8" r="1.22"/><circle cx="211.7" cy="148.5" r="1.22"/><circle cx="212.4" cy="147.3" r="1.22"/><circle cx="212.6" cy="151.0" r="1.22"/><circle cx="212.4" cy="139.5" r="1.22"/><circle cx="212.9" cy="156.2" r="1.22"/><circle cx="213.3" cy="139.8" r="1.22"/><circle cx="212.9" cy="156.3" r="1.22"/><circle cx="213.7" cy="144.8" r="1.22"/><circle cx="213.8" cy="144.1" r="1.22"/><circle cx="214.4" cy="147.2" r="1.22"/><circle cx="214.3" cy="151.1" r="1.22"/><circle cx="214.8" cy="134.2" r="1.22"/><circle cx="214.2" cy="141.7" r="1.22"/><circle cx="214.6" cy="141.1" r="1.22"/><circle cx="214.9" cy="144.5" r="1.22"/><circle cx="215.3" cy="147.8" r="1.22"/><circle cx="215.8" cy="139.3" r="1.22"/><circle cx="215.5" cy="152.0" r="1.22"/><circle cx="216.4" cy="150.5" r="1.22"/><circle cx="216.4" cy="141.7" r="1.22"/><circle cx="216.1" cy="146.8" r="1.22"/><circle cx="217.1" cy="145.6" r="1.22"/><circle cx="216.7" cy="142.1" r="1.22"/><circle cx="217.2" cy="146.0" r="1.22"/><circle cx="217.1" cy="146.2" r="1.22"/><circle cx="217.5" cy="139.7" r="1.22"/><circle cx="218.2" cy="140.5" r="1.22"/><circle cx="217.6" cy="164.8" r="1.22"/><circle cx="218.0" cy="139.2" r="1.22"/><circle cx="218.5" cy="138.7" r="1.22"/><circle cx="218.3" cy="147.7" r="1.22"/><circle cx="219.1" cy="143.3" r="1.22"/><circle cx="219.6" cy="124.4" r="1.22"/><circle cx="219.4" cy="141.0" r="1.22"/><circle cx="219.2" cy="144.7" r="1.22"/><circle cx="219.5" cy="147.5" r="1.22"/><circle cx="220.0" cy="131.1" r="1.22"/><circle cx="219.9" cy="139.0" r="1.22"/><circle cx="220.6" cy="139.5" r="1.22"/><circle cx="221.1" cy="148.7" r="1.22"/><circle cx="221.4" cy="131.3" r="1.22"/><circle cx="221.8" cy="131.6" r="1.22"/><circle cx="221.8" cy="140.4" r="1.22"/><circle cx="222.2" cy="147.4" r="1.22"/><circle cx="221.9" cy="140.5" r="1.22"/><circle cx="222.4" cy="144.2" r="1.22"/><circle cx="222.4" cy="130.5" r="1.22"/><circle cx="223.2" cy="131.9" r="1.22"/><circle cx="223.2" cy="133.6" r="1.22"/><circle cx="223.5" cy="138.6" r="1.22"/><circle cx="223.1" cy="141.1" r="1.22"/><circle cx="223.6" cy="128.7" r="1.22"/><circle cx="223.9" cy="136.0" r="1.22"/><circle cx="224.2" cy="132.2" r="1.22"/><circle cx="224.3" cy="122.5" r="1.22"/><circle cx="224.3" cy="152.2" r="1.22"/><circle cx="224.7" cy="128.3" r="1.22"/><circle cx="225.4" cy="136.7" r="1.22"/><circle cx="225.8" cy="124.4" r="1.22"/><circle cx="225.3" cy="131.4" r="1.22"/><circle cx="226.0" cy="134.9" r="1.22"/><circle cx="226.3" cy="145.3" r="1.22"/><circle cx="226.8" cy="143.7" r="1.22"/><circle cx="226.7" cy="124.1" r="1.22"/><circle cx="227.1" cy="125.0" r="1.22"/><circle cx="227.3" cy="137.3" r="1.22"/><circle cx="227.5" cy="130.0" r="1.22"/><circle cx="227.7" cy="144.9" r="1.22"/><circle cx="228.0" cy="138.4" r="1.22"/><circle cx="228.6" cy="154.1" r="1.22"/><circle cx="228.6" cy="128.1" r="1.22"/><circle cx="228.9" cy="143.7" r="1.22"/><circle cx="228.5" cy="124.4" r="1.22"/><circle cx="229.1" cy="126.5" r="1.22"/><circle cx="229.8" cy="140.0" r="1.22"/><circle cx="229.9" cy="128.7" r="1.22"/><circle cx="230.3" cy="131.0" r="1.22"/><circle cx="230.0" cy="139.7" r="1.22"/><circle cx="230.8" cy="128.0" r="1.22"/><circle cx="230.5" cy="122.8" r="1.22"/><circle cx="231.2" cy="126.1" r="1.22"/><circle cx="230.9" cy="123.0" r="1.22"/><circle cx="231.5" cy="139.6" r="1.22"/><circle cx="232.0" cy="131.7" r="1.22"/><circle cx="231.5" cy="127.6" r="1.22"/><circle cx="232.6" cy="125.6" r="1.22"/><circle cx="232.4" cy="126.2" r="1.22"/><circle cx="232.9" cy="109.7" r="1.22"/><circle cx="232.8" cy="119.7" r="1.22"/><circle cx="233.7" cy="124.6" r="1.22"/><circle cx="233.5" cy="106.1" r="1.22"/><circle cx="233.7" cy="132.1" r="1.22"/><circle cx="234.2" cy="131.9" r="1.22"/><circle cx="234.0" cy="130.6" r="1.22"/><circle cx="234.2" cy="135.3" r="1.22"/><circle cx="235.3" cy="129.6" r="1.22"/><circle cx="235.6" cy="122.6" r="1.22"/><circle cx="235.6" cy="129.1" r="1.22"/><circle cx="235.3" cy="119.8" r="1.22"/><circle cx="235.9" cy="133.0" r="1.22"/><circle cx="236.3" cy="121.6" r="1.22"/><circle cx="236.3" cy="125.0" r="1.22"/><circle cx="236.5" cy="116.2" r="1.22"/><circle cx="236.8" cy="129.0" r="1.22"/><circle cx="237.7" cy="131.8" r="1.22"/><circle cx="237.8" cy="127.0" r="1.22"/><circle cx="237.8" cy="123.8" r="1.22"/><circle cx="238.1" cy="127.3" r="1.22"/><circle cx="238.6" cy="113.0" r="1.22"/><circle cx="238.6" cy="119.5" r="1.22"/><circle cx="238.9" cy="127.1" r="1.22"/><circle cx="239.6" cy="130.8" r="1.22"/><circle cx="239.1" cy="128.5" r="1.22"/><circle cx="239.4" cy="131.6" r="1.22"/><circle cx="240.3" cy="114.1" r="1.22"/><circle cx="240.7" cy="111.7" r="1.22"/><circle cx="240.6" cy="120.7" r="1.22"/><circle cx="240.9" cy="126.7" r="1.22"/><circle cx="241.7" cy="130.1" r="1.22"/><circle cx="242.0" cy="115.9" r="1.22"/><circle cx="242.0" cy="130.4" r="1.22"/><circle cx="241.6" cy="130.2" r="1.22"/><circle cx="242.1" cy="114.7" r="1.22"/><circle cx="242.4" cy="116.1" r="1.22"/><circle cx="243.1" cy="114.2" r="1.22"/><circle cx="242.9" cy="129.1" r="1.22"/><circle cx="243.3" cy="128.5" r="1.22"/><circle cx="244.0" cy="113.1" r="1.22"/><circle cx="243.6" cy="113.9" r="1.22"/><circle cx="244.8" cy="111.7" r="1.22"/><circle cx="244.7" cy="117.6" r="1.22"/><circle cx="244.6" cy="121.7" r="1.22"/><circle cx="244.9" cy="110.1" r="1.22"/><circle cx="245.2" cy="124.6" r="1.22"/><circle cx="246.1" cy="117.9" r="1.22"/><circle cx="246.1" cy="115.9" r="1.22"/><circle cx="246.5" cy="109.1" r="1.22"/><circle cx="247.1" cy="114.1" r="1.22"/><circle cx="247.5" cy="119.8" r="1.22"/><circle cx="247.3" cy="103.8" r="1.22"/><circle cx="247.6" cy="148.7" r="1.22"/><circle cx="247.7" cy="117.5" r="1.22"/><circle cx="248.0" cy="128.0" r="1.22"/><circle cx="248.2" cy="122.1" r="1.22"/><circle cx="249.1" cy="96.3" r="1.22"/><circle cx="248.8" cy="110.2" r="1.22"/><circle cx="249.2" cy="112.2" r="1.22"/><circle cx="249.7" cy="123.6" r="1.22"/><circle cx="250.7" cy="126.8" r="1.22"/><circle cx="250.6" cy="118.9" r="1.22"/><circle cx="251.1" cy="109.4" r="1.22"/><circle cx="251.1" cy="120.6" r="1.22"/><circle cx="251.5" cy="112.0" r="1.22"/><circle cx="251.5" cy="104.5" r="1.22"/><circle cx="252.3" cy="108.9" r="1.22"/><circle cx="252.3" cy="117.1" r="1.22"/><circle cx="252.9" cy="107.1" r="1.22"/><circle cx="253.5" cy="103.5" r="1.22"/><circle cx="254.2" cy="109.9" r="1.22"/><circle cx="254.1" cy="117.8" r="1.22"/><circle cx="254.3" cy="103.0" r="1.22"/><circle cx="254.9" cy="113.9" r="1.22"/><circle cx="255.2" cy="101.7" r="1.22"/><circle cx="255.1" cy="110.3" r="1.22"/><circle cx="256.2" cy="103.0" r="1.22"/><circle cx="256.6" cy="111.5" r="1.22"/><circle cx="256.2" cy="97.8" r="1.22"/><circle cx="257.4" cy="114.1" r="1.22"/><circle cx="257.7" cy="94.8" r="1.22"/><circle cx="257.4" cy="97.9" r="1.22"/><circle cx="258.3" cy="104.2" r="1.22"/><circle cx="258.8" cy="80.7" r="1.22"/><circle cx="259.1" cy="118.4" r="1.22"/><circle cx="259.7" cy="116.0" r="1.22"/><circle cx="260.3" cy="126.2" r="1.22"/><circle cx="260.6" cy="105.5" r="1.22"/><circle cx="260.7" cy="113.2" r="1.22"/><circle cx="260.8" cy="105.8" r="1.22"/><circle cx="261.3" cy="108.2" r="1.22"/><circle cx="262.3" cy="101.2" r="1.22"/><circle cx="262.4" cy="101.6" r="1.22"/><circle cx="263.1" cy="101.6" r="1.22"/><circle cx="263.5" cy="95.3" r="1.22"/><circle cx="263.6" cy="105.2" r="1.22"/><circle cx="264.4" cy="102.2" r="1.22"/><circle cx="265.1" cy="114.1" r="1.22"/><circle cx="265.3" cy="101.3" r="1.22"/><circle cx="265.6" cy="96.3" r="1.22"/><circle cx="266.2" cy="91.9" r="1.22"/><circle cx="266.7" cy="108.8" r="1.22"/><circle cx="267.5" cy="105.2" r="1.22"/><circle cx="268.5" cy="107.0" r="1.22"/><circle cx="269.2" cy="103.0" r="1.22"/><circle cx="269.6" cy="99.1" r="1.22"/><circle cx="270.1" cy="84.8" r="1.22"/><circle cx="270.3" cy="106.8" r="1.22"/><circle cx="271.3" cy="87.9" r="1.22"/><circle cx="272.2" cy="88.6" r="1.22"/><circle cx="272.9" cy="100.2" r="1.22"/><circle cx="274.0" cy="99.9" r="1.22"/><circle cx="274.1" cy="79.9" r="1.22"/><circle cx="275.6" cy="95.4" r="1.22"/><circle cx="277.0" cy="87.9" r="1.22"/><circle cx="278.0" cy="89.9" r="1.22"/><circle cx="278.7" cy="96.1" r="1.22"/><circle cx="280.8" cy="87.7" r="1.22"/><circle cx="282.9" cy="97.1" r="1.22"/><circle cx="285.2" cy="72.3" r="1.22"/><circle cx="288.7" cy="84.8" r="1.22"/><circle cx="313.3" cy="59.8" r="1.22"/><circle cx="298" cy="66.8" r="1.22"/><circle cx="295.4" cy="73.2" r="1.22"/><circle cx="287.2" cy="76" r="1.22"/><circle cx="291.8" cy="76.3" r="1.22"/><circle cx="291.3" cy="78.6" r="1.22"/><circle cx="292.3" cy="78.3" r="1.22"/><circle cx="272.9" cy="74.7" r="1.22"/><circle cx="286.2" cy="81.9" r="1.22"/><circle cx="283.6" cy="85" r="1.22"/><circle cx="279.6" cy="85" r="1.22"/><circle cx="278" cy="87" r="1.22"/><circle cx="280.6" cy="86.5" r="1.22"/><circle cx="282.6" cy="88" r="1.22"/><circle cx="275.5" cy="89" r="1.22"/><circle cx="274" cy="91.1" r="1.22"/><circle cx="277" cy="90.1" r="1.22"/><circle cx="275" cy="93.1" r="1.22"/><circle cx="272.9" cy="92.6" r="1.22"/><circle cx="270.9" cy="94.2" r="1.22"/><circle cx="276" cy="95.2" r="1.22"/><circle cx="273.4" cy="95.7" r="1.22"/><circle cx="271.9" cy="96.2" r="1.22"/><circle cx="284.2" cy="96" r="1.22"/><circle cx="290.8" cy="94" r="1.22"/><circle cx="289.3" cy="99.1" r="1.22"/><circle cx="291.8" cy="101.3" r="1.22"/><circle cx="283.6" cy="101.3" r="1.22"/><circle cx="267.3" cy="97.7" r="1.22"/><circle cx="263.7" cy="101.3" r="1.22"/><circle cx="268.8" cy="103.4" r="1.22"/><circle cx="259.6" cy="104.4" r="1.22"/><circle cx="257.6" cy="106.4" r="1.22"/><circle cx="260.1" cy="107.4" r="1.22"/><circle cx="255.5" cy="107.4" r="1.22"/><circle cx="253.5" cy="108.4" r="1.22"/><circle cx="265.8" cy="107" r="1.22"/><circle cx="245.3" cy="108" r="1.22"/><circle cx="81.4" cy="229.9" r="1.22"/><circle cx="76.3" cy="239.9" r="1.22"/><circle cx="76.8" cy="247.8" r="1.22"/><circle cx="65.1" cy="256.8" r="1.22"/><circle cx="108" cy="258.1" r="1.22"/><circle cx="222.8" cy="220.3" r="1.22"/><circle cx="252.8" cy="150.2" r="1.22"/><circle cx="225.2" cy="167.9" r="1.22"/><circle cx="235.4" cy="155.7" r="1.22"/></g>
<line x1="62.50" y1="288.50" x2="331.50" y2="27.50" stroke="#a6a6a6" stroke-width="1.6"/>
<rect x="62.50" y="27.50" width="269.00" height="261.00" fill="none" stroke="#2b2b2b" stroke-width="1"/>
<line x1="72.40" y1="288.50" x2="72.40" y2="295.80" stroke="#2b2b2b" stroke-width="1.1"/>
<line x1="55.20" y1="279.10" x2="62.50" y2="279.10" stroke="#2b2b2b" stroke-width="1.1"/>
<line x1="119.48" y1="288.50" x2="119.48" y2="295.80" stroke="#2b2b2b" stroke-width="1.1"/>
<line x1="55.20" y1="233.26" x2="62.50" y2="233.26" stroke="#2b2b2b" stroke-width="1.1"/>
<line x1="139.75" y1="288.50" x2="139.75" y2="295.80" stroke="#2b2b2b" stroke-width="1.1"/>
<line x1="55.20" y1="213.52" x2="62.50" y2="213.52" stroke="#2b2b2b" stroke-width="1.1"/>
<line x1="186.83" y1="288.50" x2="186.83" y2="295.80" stroke="#2b2b2b" stroke-width="1.1"/>
<line x1="55.20" y1="167.68" x2="62.50" y2="167.68" stroke="#2b2b2b" stroke-width="1.1"/>
<line x1="207.10" y1="288.50" x2="207.10" y2="295.80" stroke="#2b2b2b" stroke-width="1.1"/>
<line x1="55.20" y1="147.94" x2="62.50" y2="147.94" stroke="#2b2b2b" stroke-width="1.1"/>
<line x1="254.18" y1="288.50" x2="254.18" y2="295.80" stroke="#2b2b2b" stroke-width="1.1"/>
<line x1="55.20" y1="102.10" x2="62.50" y2="102.10" stroke="#2b2b2b" stroke-width="1.1"/>
<line x1="274.45" y1="288.50" x2="274.45" y2="295.80" stroke="#2b2b2b" stroke-width="1.1"/>
<line x1="55.20" y1="82.36" x2="62.50" y2="82.36" stroke="#2b2b2b" stroke-width="1.1"/>
<line x1="321.53" y1="288.50" x2="321.53" y2="295.80" stroke="#2b2b2b" stroke-width="1.1"/>
<line x1="55.20" y1="36.52" x2="62.50" y2="36.52" stroke="#2b2b2b" stroke-width="1.1"/>
<text x="72.40" y="314.90" text-anchor="middle">0.001</text>
<text x="45.80" y="279.10" text-anchor="middle" transform="rotate(-90 45.80 279.10)">0.001</text>
<text x="119.48" y="314.90" text-anchor="middle">0.005</text>
<text x="45.80" y="233.26" text-anchor="middle" transform="rotate(-90 45.80 233.26)">0.005</text>
<text x="186.83" y="314.90" text-anchor="middle">0.050</text>
<text x="45.80" y="167.68" text-anchor="middle" transform="rotate(-90 45.80 167.68)">0.050</text>
<text x="254.18" y="314.90" text-anchor="middle">0.500</text>
<text x="45.80" y="102.10" text-anchor="middle" transform="rotate(-90 45.80 102.10)">0.500</text>
<text x="321.53" y="314.90" text-anchor="middle">5.000</text>
<text x="45.80" y="36.52" text-anchor="middle" transform="rotate(-90 45.80 36.52)">5.000</text>
<text x="197.00" y="11.10" text-anchor="middle" font-weight="bold" font-size="14.65">(a) Species total loading</text>
<text x="197.30" y="341.10" text-anchor="middle" font-size="12.2">W<tspan font-size="8.4" dy="2.5">total</tspan><tspan dy="-2.5"> from species data&#160;&#160;(kg</tspan><tspan font-size="10"> · </tspan>m<tspan font-size="9" dy="-5.8" dx="0.3">−2</tspan><tspan dy="5.8" dx="0.8">)</tspan></text>
<text x="12.80" y="157.35" text-anchor="middle" transform="rotate(-90 12.80 157.35)">W<tspan font-size="8.4" dy="2.5">total</tspan><tspan dy="-2.5"> as sum of individual biomass&#160;&#160;&#160;(kg</tspan><tspan font-size="10"> · </tspan>m<tspan font-size="9" dy="-5.8" dx="0.3">−2</tspan><tspan dy="5.8" dx="0.8">)</tspan></text>
<circle cx="73.20" cy="41.5" r="3.2" fill="#ff0000"/>
<circle cx="73.20" cy="56.3" r="3.2" fill="#000"/>
<text x="83.80" y="46.0" font-size="12.2">Bulk density</text>
<text x="83.80" y="61.0" font-size="12.2">Up-scaled allometries</text>
<g fill="#000"><circle cx="413.1" cy="233.0" r="1.22"/><circle cx="412.9" cy="263.7" r="1.22"/><circle cx="414.0" cy="262.4" r="1.22"/><circle cx="414.9" cy="271.8" r="1.22"/><circle cx="415.1" cy="275.9" r="1.22"/><circle cx="416.5" cy="267.8" r="1.22"/><circle cx="417.0" cy="258.7" r="1.22"/><circle cx="417.6" cy="251.4" r="1.22"/><circle cx="417.9" cy="267.1" r="1.22"/><circle cx="418.0" cy="270.6" r="1.22"/><circle cx="419.2" cy="246.0" r="1.22"/><circle cx="418.9" cy="266.1" r="1.22"/><circle cx="419.3" cy="268.0" r="1.22"/><circle cx="419.8" cy="274.2" r="1.22"/><circle cx="420.7" cy="261.5" r="1.22"/><circle cx="421.7" cy="269.6" r="1.22"/><circle cx="421.5" cy="250.3" r="1.22"/><circle cx="422.2" cy="265.2" r="1.22"/><circle cx="422.3" cy="270.5" r="1.22"/><circle cx="423.0" cy="278.2" r="1.22"/><circle cx="424.1" cy="243.7" r="1.22"/><circle cx="424.0" cy="252.5" r="1.22"/><circle cx="424.5" cy="260.9" r="1.22"/><circle cx="424.8" cy="255.7" r="1.22"/><circle cx="425.4" cy="253.3" r="1.22"/><circle cx="426.0" cy="256.6" r="1.22"/><circle cx="426.2" cy="258.4" r="1.22"/><circle cx="427.1" cy="247.2" r="1.22"/><circle cx="427.2" cy="264.4" r="1.22"/><circle cx="428.0" cy="270.1" r="1.22"/><circle cx="428.1" cy="250.3" r="1.22"/><circle cx="428.7" cy="272.3" r="1.22"/><circle cx="428.3" cy="268.9" r="1.22"/><circle cx="429.3" cy="244.2" r="1.22"/><circle cx="429.5" cy="237.4" r="1.22"/><circle cx="429.5" cy="254.9" r="1.22"/><circle cx="430.1" cy="246.8" r="1.22"/><circle cx="431.2" cy="250.9" r="1.22"/><circle cx="431.2" cy="245.3" r="1.22"/><circle cx="431.4" cy="231.7" r="1.22"/><circle cx="431.5" cy="258.8" r="1.22"/><circle cx="432.7" cy="240.2" r="1.22"/><circle cx="432.6" cy="236.6" r="1.22"/><circle cx="433.4" cy="247.7" r="1.22"/><circle cx="433.3" cy="229.9" r="1.22"/><circle cx="434.0" cy="235.2" r="1.22"/><circle cx="433.8" cy="257.2" r="1.22"/><circle cx="434.7" cy="252.5" r="1.22"/><circle cx="435.3" cy="245.3" r="1.22"/><circle cx="435.5" cy="241.1" r="1.22"/><circle cx="435.7" cy="251.8" r="1.22"/><circle cx="435.9" cy="244.5" r="1.22"/><circle cx="436.3" cy="246.1" r="1.22"/><circle cx="436.4" cy="233.8" r="1.22"/><circle cx="437.0" cy="252.6" r="1.22"/><circle cx="437.5" cy="244.6" r="1.22"/><circle cx="438.1" cy="236.5" r="1.22"/><circle cx="438.3" cy="235.6" r="1.22"/><circle cx="438.4" cy="243.7" r="1.22"/><circle cx="439.1" cy="245.8" r="1.22"/><circle cx="438.9" cy="255.8" r="1.22"/><circle cx="439.4" cy="270.3" r="1.22"/><circle cx="439.5" cy="244.6" r="1.22"/><circle cx="440.6" cy="258.8" r="1.22"/><circle cx="440.0" cy="244.1" r="1.22"/><circle cx="441.0" cy="237.7" r="1.22"/><circle cx="440.8" cy="244.7" r="1.22"/><circle cx="441.5" cy="230.1" r="1.22"/><circle cx="442.0" cy="245.2" r="1.22"/><circle cx="442.0" cy="222.8" r="1.22"/><circle cx="442.9" cy="244.6" r="1.22"/><circle cx="443.0" cy="239.9" r="1.22"/><circle cx="442.8" cy="230.8" r="1.22"/><circle cx="443.3" cy="242.8" r="1.22"/><circle cx="443.8" cy="233.1" r="1.22"/><circle cx="443.8" cy="246.3" r="1.22"/><circle cx="444.8" cy="231.7" r="1.22"/><circle cx="444.9" cy="226.7" r="1.22"/><circle cx="444.7" cy="239.6" r="1.22"/><circle cx="445.5" cy="230.8" r="1.22"/><circle cx="445.6" cy="230.5" r="1.22"/><circle cx="445.7" cy="233.9" r="1.22"/><circle cx="446.4" cy="240.2" r="1.22"/><circle cx="446.8" cy="247.8" r="1.22"/><circle cx="447.6" cy="225.8" r="1.22"/><circle cx="447.4" cy="219.4" r="1.22"/><circle cx="448.1" cy="229.2" r="1.22"/><circle cx="448.0" cy="229.9" r="1.22"/><circle cx="448.1" cy="233.8" r="1.22"/><circle cx="449.0" cy="247.8" r="1.22"/><circle cx="449.2" cy="227.2" r="1.22"/><circle cx="449.8" cy="235.1" r="1.22"/><circle cx="449.9" cy="225.3" r="1.22"/><circle cx="449.9" cy="238.6" r="1.22"/><circle cx="450.3" cy="234.5" r="1.22"/><circle cx="450.8" cy="233.3" r="1.22"/><circle cx="451.3" cy="210.7" r="1.22"/><circle cx="451.4" cy="243.7" r="1.22"/><circle cx="451.4" cy="237.4" r="1.22"/><circle cx="451.9" cy="250.7" r="1.22"/><circle cx="452.4" cy="210.1" r="1.22"/><circle cx="452.6" cy="230.6" r="1.22"/><circle cx="453.1" cy="233.0" r="1.22"/><circle cx="453.6" cy="236.2" r="1.22"/><circle cx="453.4" cy="244.1" r="1.22"/><circle cx="453.8" cy="229.4" r="1.22"/><circle cx="454.2" cy="227.6" r="1.22"/><circle cx="454.3" cy="234.9" r="1.22"/><circle cx="454.6" cy="229.0" r="1.22"/><circle cx="455.2" cy="217.9" r="1.22"/><circle cx="455.4" cy="222.1" r="1.22"/><circle cx="455.9" cy="233.9" r="1.22"/><circle cx="455.9" cy="230.9" r="1.22"/><circle cx="456.1" cy="210.7" r="1.22"/><circle cx="456.9" cy="218.8" r="1.22"/><circle cx="457.3" cy="240.8" r="1.22"/><circle cx="457.2" cy="219.7" r="1.22"/><circle cx="457.8" cy="242.1" r="1.22"/><circle cx="457.8" cy="215.6" r="1.22"/><circle cx="458.9" cy="212.6" r="1.22"/><circle cx="458.8" cy="233.5" r="1.22"/><circle cx="459.6" cy="233.6" r="1.22"/><circle cx="459.0" cy="222.1" r="1.22"/><circle cx="460.1" cy="227.2" r="1.22"/><circle cx="460.3" cy="210.9" r="1.22"/><circle cx="460.2" cy="206.8" r="1.22"/><circle cx="460.5" cy="219.2" r="1.22"/><circle cx="461.0" cy="218.6" r="1.22"/><circle cx="461.1" cy="222.6" r="1.22"/><circle cx="461.9" cy="227.4" r="1.22"/><circle cx="462.2" cy="209.0" r="1.22"/><circle cx="461.9" cy="221.5" r="1.22"/><circle cx="462.5" cy="208.1" r="1.22"/><circle cx="463.3" cy="208.8" r="1.22"/><circle cx="462.8" cy="231.1" r="1.22"/><circle cx="463.9" cy="212.8" r="1.22"/><circle cx="463.4" cy="228.4" r="1.22"/><circle cx="464.0" cy="218.5" r="1.22"/><circle cx="464.3" cy="224.6" r="1.22"/><circle cx="464.6" cy="224.9" r="1.22"/><circle cx="465.3" cy="216.9" r="1.22"/><circle cx="465.8" cy="233.5" r="1.22"/><circle cx="465.6" cy="212.6" r="1.22"/><circle cx="465.7" cy="217.9" r="1.22"/><circle cx="466.3" cy="203.9" r="1.22"/><circle cx="466.5" cy="225.8" r="1.22"/><circle cx="467.5" cy="209.2" r="1.22"/><circle cx="467.1" cy="218.7" r="1.22"/><circle cx="468.1" cy="194.0" r="1.22"/><circle cx="467.5" cy="221.7" r="1.22"/><circle cx="468.2" cy="219.5" r="1.22"/><circle cx="468.1" cy="223.7" r="1.22"/><circle cx="468.9" cy="231.3" r="1.22"/><circle cx="469.3" cy="223.0" r="1.22"/><circle cx="469.4" cy="217.6" r="1.22"/><circle cx="469.5" cy="230.9" r="1.22"/><circle cx="470.3" cy="217.2" r="1.22"/><circle cx="470.2" cy="226.7" r="1.22"/><circle cx="471.0" cy="222.5" r="1.22"/><circle cx="471.2" cy="227.5" r="1.22"/><circle cx="471.3" cy="199.5" r="1.22"/><circle cx="471.7" cy="210.7" r="1.22"/><circle cx="472.0" cy="211.4" r="1.22"/><circle cx="472.2" cy="213.4" r="1.22"/><circle cx="472.5" cy="217.5" r="1.22"/><circle cx="473.3" cy="216.0" r="1.22"/><circle cx="473.2" cy="206.8" r="1.22"/><circle cx="473.4" cy="205.8" r="1.22"/><circle cx="473.5" cy="213.6" r="1.22"/><circle cx="474.7" cy="224.1" r="1.22"/><circle cx="474.8" cy="203.9" r="1.22"/><circle cx="474.9" cy="210.2" r="1.22"/><circle cx="475.1" cy="217.6" r="1.22"/><circle cx="475.4" cy="221.8" r="1.22"/><circle cx="476.1" cy="209.4" r="1.22"/><circle cx="476.0" cy="223.9" r="1.22"/><circle cx="476.9" cy="209.2" r="1.22"/><circle cx="476.8" cy="234.7" r="1.22"/><circle cx="477.2" cy="215.6" r="1.22"/><circle cx="477.3" cy="208.7" r="1.22"/><circle cx="478.2" cy="217.0" r="1.22"/><circle cx="478.5" cy="215.8" r="1.22"/><circle cx="477.9" cy="212.5" r="1.22"/><circle cx="479.0" cy="207.8" r="1.22"/><circle cx="479.2" cy="210.1" r="1.22"/><circle cx="479.2" cy="215.8" r="1.22"/><circle cx="479.2" cy="202.3" r="1.22"/><circle cx="479.7" cy="210.0" r="1.22"/><circle cx="479.9" cy="207.6" r="1.22"/><circle cx="480.8" cy="206.3" r="1.22"/><circle cx="480.5" cy="217.0" r="1.22"/><circle cx="480.9" cy="245.7" r="1.22"/><circle cx="481.4" cy="207.1" r="1.22"/><circle cx="481.7" cy="206.8" r="1.22"/><circle cx="482.7" cy="221.8" r="1.22"/><circle cx="482.2" cy="218.3" r="1.22"/><circle cx="482.6" cy="208.6" r="1.22"/><circle cx="482.9" cy="219.2" r="1.22"/><circle cx="483.6" cy="199.1" r="1.22"/><circle cx="483.5" cy="209.5" r="1.22"/><circle cx="484.0" cy="199.6" r="1.22"/><circle cx="484.2" cy="211.8" r="1.22"/><circle cx="485.2" cy="210.9" r="1.22"/><circle cx="484.7" cy="216.9" r="1.22"/><circle cx="485.4" cy="204.4" r="1.22"/><circle cx="485.7" cy="200.0" r="1.22"/><circle cx="485.8" cy="222.7" r="1.22"/><circle cx="486.4" cy="193.6" r="1.22"/><circle cx="486.8" cy="194.5" r="1.22"/><circle cx="486.8" cy="194.0" r="1.22"/><circle cx="487.7" cy="199.3" r="1.22"/><circle cx="488.2" cy="207.7" r="1.22"/><circle cx="488.1" cy="204.6" r="1.22"/><circle cx="488.2" cy="190.4" r="1.22"/><circle cx="488.5" cy="206.7" r="1.22"/><circle cx="488.6" cy="197.4" r="1.22"/><circle cx="489.5" cy="208.3" r="1.22"/><circle cx="489.5" cy="185.8" r="1.22"/><circle cx="489.6" cy="201.0" r="1.22"/><circle cx="490.4" cy="203.4" r="1.22"/><circle cx="491.1" cy="214.9" r="1.22"/><circle cx="490.9" cy="188.5" r="1.22"/><circle cx="491.2" cy="197.7" r="1.22"/><circle cx="491.5" cy="202.9" r="1.22"/><circle cx="491.9" cy="196.7" r="1.22"/><circle cx="492.0" cy="203.4" r="1.22"/><circle cx="492.9" cy="203.3" r="1.22"/><circle cx="493.4" cy="199.5" r="1.22"/><circle cx="493.4" cy="194.9" r="1.22"/><circle cx="493.9" cy="194.3" r="1.22"/><circle cx="494.0" cy="196.8" r="1.22"/><circle cx="494.5" cy="183.8" r="1.22"/><circle cx="494.4" cy="187.9" r="1.22"/><circle cx="494.8" cy="205.2" r="1.22"/><circle cx="495.5" cy="204.3" r="1.22"/><circle cx="495.5" cy="210.8" r="1.22"/><circle cx="496.2" cy="194.5" r="1.22"/><circle cx="496.6" cy="181.4" r="1.22"/><circle cx="496.8" cy="185.7" r="1.22"/><circle cx="496.7" cy="202.4" r="1.22"/><circle cx="496.8" cy="192.9" r="1.22"/><circle cx="497.9" cy="202.1" r="1.22"/><circle cx="497.6" cy="190.3" r="1.22"/><circle cx="498.2" cy="188.4" r="1.22"/><circle cx="498.5" cy="195.1" r="1.22"/><circle cx="499.2" cy="198.1" r="1.22"/><circle cx="499.4" cy="198.7" r="1.22"/><circle cx="500.0" cy="180.6" r="1.22"/><circle cx="499.7" cy="180.9" r="1.22"/><circle cx="499.8" cy="182.1" r="1.22"/><circle cx="500.5" cy="195.3" r="1.22"/><circle cx="501.3" cy="183.3" r="1.22"/><circle cx="501.7" cy="179.1" r="1.22"/><circle cx="501.4" cy="191.2" r="1.22"/><circle cx="502.0" cy="185.0" r="1.22"/><circle cx="502.4" cy="180.3" r="1.22"/><circle cx="502.9" cy="198.0" r="1.22"/><circle cx="503.2" cy="186.9" r="1.22"/><circle cx="502.8" cy="186.9" r="1.22"/><circle cx="504.0" cy="185.3" r="1.22"/><circle cx="503.5" cy="178.7" r="1.22"/><circle cx="504.6" cy="178.1" r="1.22"/><circle cx="504.9" cy="169.8" r="1.22"/><circle cx="505.3" cy="175.5" r="1.22"/><circle cx="505.6" cy="193.7" r="1.22"/><circle cx="505.2" cy="189.6" r="1.22"/><circle cx="505.6" cy="184.8" r="1.22"/><circle cx="506.7" cy="156.2" r="1.22"/><circle cx="506.4" cy="182.6" r="1.22"/><circle cx="507.0" cy="170.7" r="1.22"/><circle cx="507.0" cy="179.6" r="1.22"/><circle cx="507.7" cy="182.6" r="1.22"/><circle cx="507.6" cy="174.6" r="1.22"/><circle cx="508.0" cy="191.1" r="1.22"/><circle cx="509.2" cy="161.1" r="1.22"/><circle cx="509.5" cy="189.6" r="1.22"/><circle cx="509.7" cy="178.1" r="1.22"/><circle cx="509.6" cy="179.9" r="1.22"/><circle cx="509.7" cy="173.8" r="1.22"/><circle cx="510.9" cy="177.3" r="1.22"/><circle cx="510.7" cy="164.0" r="1.22"/><circle cx="510.9" cy="176.7" r="1.22"/><circle cx="512.0" cy="191.9" r="1.22"/><circle cx="512.5" cy="180.9" r="1.22"/><circle cx="512.8" cy="186.4" r="1.22"/><circle cx="513.0" cy="165.8" r="1.22"/><circle cx="512.9" cy="181.3" r="1.22"/><circle cx="513.7" cy="177.4" r="1.22"/><circle cx="514.0" cy="165.2" r="1.22"/><circle cx="513.8" cy="183.1" r="1.22"/><circle cx="514.7" cy="180.7" r="1.22"/><circle cx="515.0" cy="170.7" r="1.22"/><circle cx="514.9" cy="187.2" r="1.22"/><circle cx="515.3" cy="181.4" r="1.22"/><circle cx="515.6" cy="186.6" r="1.22"/><circle cx="516.1" cy="184.3" r="1.22"/><circle cx="517.1" cy="174.4" r="1.22"/><circle cx="517.1" cy="171.3" r="1.22"/><circle cx="517.2" cy="164.8" r="1.22"/><circle cx="517.8" cy="173.8" r="1.22"/><circle cx="518.1" cy="175.4" r="1.22"/><circle cx="518.2" cy="192.5" r="1.22"/><circle cx="518.9" cy="180.9" r="1.22"/><circle cx="519.9" cy="166.3" r="1.22"/><circle cx="520.2" cy="164.9" r="1.22"/><circle cx="520.3" cy="172.4" r="1.22"/><circle cx="521.0" cy="178.3" r="1.22"/><circle cx="520.9" cy="176.2" r="1.22"/><circle cx="521.3" cy="173.0" r="1.22"/><circle cx="522.2" cy="172.3" r="1.22"/><circle cx="522.4" cy="166.1" r="1.22"/><circle cx="522.1" cy="164.5" r="1.22"/><circle cx="523.0" cy="175.0" r="1.22"/><circle cx="523.8" cy="169.7" r="1.22"/><circle cx="523.6" cy="171.9" r="1.22"/><circle cx="524.3" cy="176.0" r="1.22"/><circle cx="524.0" cy="166.1" r="1.22"/><circle cx="525.3" cy="157.7" r="1.22"/><circle cx="525.6" cy="165.1" r="1.22"/><circle cx="525.3" cy="170.5" r="1.22"/><circle cx="526.5" cy="170.9" r="1.22"/><circle cx="526.8" cy="173.0" r="1.22"/><circle cx="527.1" cy="158.0" r="1.22"/><circle cx="527.8" cy="157.5" r="1.22"/><circle cx="527.9" cy="164.8" r="1.22"/><circle cx="528.0" cy="174.6" r="1.22"/><circle cx="528.6" cy="167.0" r="1.22"/><circle cx="529.4" cy="195.1" r="1.22"/><circle cx="529.5" cy="169.1" r="1.22"/><circle cx="529.8" cy="174.0" r="1.22"/><circle cx="530.6" cy="174.2" r="1.22"/><circle cx="530.3" cy="176.1" r="1.22"/><circle cx="531.0" cy="161.1" r="1.22"/><circle cx="531.1" cy="154.2" r="1.22"/><circle cx="532.2" cy="171.1" r="1.22"/><circle cx="532.0" cy="162.9" r="1.22"/><circle cx="532.9" cy="155.4" r="1.22"/><circle cx="533.4" cy="160.0" r="1.22"/><circle cx="533.8" cy="160.3" r="1.22"/><circle cx="534.0" cy="156.3" r="1.22"/><circle cx="534.6" cy="163.0" r="1.22"/><circle cx="534.9" cy="152.9" r="1.22"/><circle cx="535.8" cy="172.0" r="1.22"/><circle cx="536.1" cy="161.8" r="1.22"/><circle cx="536.1" cy="159.2" r="1.22"/><circle cx="536.8" cy="159.8" r="1.22"/><circle cx="536.8" cy="154.8" r="1.22"/><circle cx="537.4" cy="192.7" r="1.22"/><circle cx="538.1" cy="156.1" r="1.22"/><circle cx="538.4" cy="158.2" r="1.22"/><circle cx="538.9" cy="151.9" r="1.22"/><circle cx="539.4" cy="164.9" r="1.22"/><circle cx="539.9" cy="154.8" r="1.22"/><circle cx="540.8" cy="152.0" r="1.22"/><circle cx="540.8" cy="148.8" r="1.22"/><circle cx="541.2" cy="160.8" r="1.22"/><circle cx="542.1" cy="133.2" r="1.22"/><circle cx="542.7" cy="162.7" r="1.22"/><circle cx="542.8" cy="154.8" r="1.22"/><circle cx="543.4" cy="150.8" r="1.22"/><circle cx="543.6" cy="147.2" r="1.22"/><circle cx="544.1" cy="133.9" r="1.22"/><circle cx="544.5" cy="145.1" r="1.22"/><circle cx="545.2" cy="162.6" r="1.22"/><circle cx="545.7" cy="154.5" r="1.22"/><circle cx="546.7" cy="160.7" r="1.22"/><circle cx="547.0" cy="143.0" r="1.22"/><circle cx="546.8" cy="148.0" r="1.22"/><circle cx="547.7" cy="147.4" r="1.22"/><circle cx="548.1" cy="157.4" r="1.22"/><circle cx="549.3" cy="146.9" r="1.22"/><circle cx="549.8" cy="140.3" r="1.22"/><circle cx="550.4" cy="137.7" r="1.22"/><circle cx="550.6" cy="143.9" r="1.22"/><circle cx="551.0" cy="145.4" r="1.22"/><circle cx="551.4" cy="139.8" r="1.22"/><circle cx="552.6" cy="143.8" r="1.22"/><circle cx="552.2" cy="152.2" r="1.22"/><circle cx="553.6" cy="154.8" r="1.22"/><circle cx="553.6" cy="144.9" r="1.22"/><circle cx="554.2" cy="154.8" r="1.22"/><circle cx="554.6" cy="148.8" r="1.22"/><circle cx="555.2" cy="134.8" r="1.22"/><circle cx="555.7" cy="148.3" r="1.22"/><circle cx="556.8" cy="144.5" r="1.22"/><circle cx="557.5" cy="139.4" r="1.22"/><circle cx="558.3" cy="139.0" r="1.22"/><circle cx="559.0" cy="140.0" r="1.22"/><circle cx="558.7" cy="138.2" r="1.22"/><circle cx="559.3" cy="144.1" r="1.22"/><circle cx="560.5" cy="154.7" r="1.22"/><circle cx="561.5" cy="128.4" r="1.22"/><circle cx="561.4" cy="135.6" r="1.22"/><circle cx="562.4" cy="124.9" r="1.22"/><circle cx="563.3" cy="132.3" r="1.22"/><circle cx="563.9" cy="135.1" r="1.22"/><circle cx="563.9" cy="132.8" r="1.22"/><circle cx="564.9" cy="123.6" r="1.22"/><circle cx="565.1" cy="137.2" r="1.22"/><circle cx="566.0" cy="128.6" r="1.22"/><circle cx="567.3" cy="140.8" r="1.22"/><circle cx="567.7" cy="126.0" r="1.22"/><circle cx="568.7" cy="138.5" r="1.22"/><circle cx="568.6" cy="133.7" r="1.22"/><circle cx="569.9" cy="140.8" r="1.22"/><circle cx="570.8" cy="121.5" r="1.22"/><circle cx="571.0" cy="130.5" r="1.22"/><circle cx="571.8" cy="127.4" r="1.22"/><circle cx="572.5" cy="130.0" r="1.22"/><circle cx="573.8" cy="129.5" r="1.22"/><circle cx="574.3" cy="126.2" r="1.22"/><circle cx="574.4" cy="126.3" r="1.22"/><circle cx="575.8" cy="103.8" r="1.22"/><circle cx="576.8" cy="120.8" r="1.22"/><circle cx="576.8" cy="120.6" r="1.22"/><circle cx="577.6" cy="118.2" r="1.22"/><circle cx="579.0" cy="116.4" r="1.22"/><circle cx="579.4" cy="125.8" r="1.22"/><circle cx="580.5" cy="117.3" r="1.22"/><circle cx="581.5" cy="111.8" r="1.22"/><circle cx="581.9" cy="120.6" r="1.22"/><circle cx="583.0" cy="109.7" r="1.22"/><circle cx="583.6" cy="116.5" r="1.22"/><circle cx="584.5" cy="112.5" r="1.22"/><circle cx="586.1" cy="114.7" r="1.22"/><circle cx="586.4" cy="107.9" r="1.22"/><circle cx="588.0" cy="110.1" r="1.22"/><circle cx="589.1" cy="114.9" r="1.22"/><circle cx="589.3" cy="99.6" r="1.22"/><circle cx="590.5" cy="108.5" r="1.22"/><circle cx="591.2" cy="107.1" r="1.22"/><circle cx="620.4" cy="78" r="1.22"/><circle cx="632" cy="82.3" r="1.22"/><circle cx="610.4" cy="87.6" r="1.22"/><circle cx="613.9" cy="89" r="1.22"/><circle cx="612.8" cy="90.2" r="1.22"/><circle cx="618" cy="86.1" r="1.22"/><circle cx="614.5" cy="96.1" r="1.22"/><circle cx="607.5" cy="94.9" r="1.22"/><circle cx="631.8" cy="98.4" r="1.22"/><circle cx="598.8" cy="97.8" r="1.22"/><circle cx="605.2" cy="97.8" r="1.22"/><circle cx="602.3" cy="100.7" r="1.22"/><circle cx="600.5" cy="101.9" r="1.22"/><circle cx="592.9" cy="104" r="1.22"/><circle cx="594.1" cy="104.5" r="1.22"/><circle cx="597" cy="105.4" r="1.22"/><circle cx="595.8" cy="107.2" r="1.22"/><circle cx="591.8" cy="108.9" r="1.22"/><circle cx="591.2" cy="111.2" r="1.22"/><circle cx="593.5" cy="113.6" r="1.22"/><circle cx="607.3" cy="116.1" r="1.22"/><circle cx="520.5" cy="230" r="1.22"/><circle cx="546" cy="204" r="1.22"/><circle cx="542" cy="191.5" r="1.22"/><circle cx="547.1" cy="204.9" r="1.22"/><circle cx="514.4" cy="152.3" r="1.22"/><circle cx="503.9" cy="159.9" r="1.22"/></g>
<g fill="#f00"><circle cx="413.1" cy="280.4" r="1.22"/><circle cx="414.4" cy="277.8" r="1.22"/><circle cx="414.2" cy="269.5" r="1.22"/><circle cx="415.4" cy="262.8" r="1.22"/><circle cx="415.7" cy="287.0" r="1.22"/><circle cx="417.1" cy="255.1" r="1.22"/><circle cx="416.8" cy="278.7" r="1.22"/><circle cx="417.9" cy="255.3" r="1.22"/><circle cx="418.2" cy="269.3" r="1.22"/><circle cx="418.7" cy="279.8" r="1.22"/><circle cx="419.5" cy="260.5" r="1.22"/><circle cx="419.9" cy="251.4" r="1.22"/><circle cx="421.1" cy="269.8" r="1.22"/><circle cx="421.8" cy="262.2" r="1.22"/><circle cx="422.0" cy="282.5" r="1.22"/><circle cx="422.1" cy="259.1" r="1.22"/><circle cx="423.4" cy="268.4" r="1.22"/><circle cx="423.4" cy="272.5" r="1.22"/><circle cx="424.5" cy="257.1" r="1.22"/><circle cx="424.1" cy="268.3" r="1.22"/><circle cx="425.7" cy="257.0" r="1.22"/><circle cx="426.2" cy="243.8" r="1.22"/><circle cx="426.3" cy="274.4" r="1.22"/><circle cx="426.9" cy="237.3" r="1.22"/><circle cx="427.4" cy="239.1" r="1.22"/><circle cx="428.3" cy="249.1" r="1.22"/><circle cx="428.7" cy="234.1" r="1.22"/><circle cx="428.9" cy="274.1" r="1.22"/><circle cx="429.9" cy="246.3" r="1.22"/><circle cx="429.8" cy="265.2" r="1.22"/><circle cx="430.8" cy="236.8" r="1.22"/><circle cx="431.1" cy="246.5" r="1.22"/><circle cx="431.6" cy="255.8" r="1.22"/><circle cx="431.7" cy="245.4" r="1.22"/><circle cx="431.7" cy="228.7" r="1.22"/><circle cx="432.8" cy="272.8" r="1.22"/><circle cx="432.8" cy="271.8" r="1.22"/><circle cx="433.0" cy="256.6" r="1.22"/><circle cx="434.2" cy="241.4" r="1.22"/><circle cx="434.3" cy="262.9" r="1.22"/><circle cx="435.1" cy="260.6" r="1.22"/><circle cx="435.5" cy="256.0" r="1.22"/><circle cx="435.8" cy="236.5" r="1.22"/><circle cx="436.1" cy="248.8" r="1.22"/><circle cx="436.5" cy="274.0" r="1.22"/><circle cx="437.3" cy="234.4" r="1.22"/><circle cx="436.8" cy="238.6" r="1.22"/><circle cx="437.3" cy="248.2" r="1.22"/><circle cx="438.2" cy="258.8" r="1.22"/><circle cx="438.4" cy="251.5" r="1.22"/><circle cx="438.5" cy="261.7" r="1.22"/><circle cx="439.3" cy="220.7" r="1.22"/><circle cx="439.8" cy="245.0" r="1.22"/><circle cx="439.5" cy="267.6" r="1.22"/><circle cx="439.9" cy="240.2" r="1.22"/><circle cx="440.5" cy="232.1" r="1.22"/><circle cx="441.0" cy="263.6" r="1.22"/><circle cx="441.9" cy="240.3" r="1.22"/><circle cx="441.9" cy="241.7" r="1.22"/><circle cx="442.4" cy="247.5" r="1.22"/><circle cx="442.9" cy="251.6" r="1.22"/><circle cx="443.0" cy="230.0" r="1.22"/><circle cx="442.9" cy="235.7" r="1.22"/><circle cx="443.6" cy="246.5" r="1.22"/><circle cx="443.7" cy="204.9" r="1.22"/><circle cx="444.7" cy="235.4" r="1.22"/><circle cx="444.9" cy="260.0" r="1.22"/><circle cx="445.2" cy="252.6" r="1.22"/><circle cx="445.4" cy="232.9" r="1.22"/><circle cx="445.6" cy="240.0" r="1.22"/><circle cx="446.6" cy="249.8" r="1.22"/><circle cx="446.5" cy="240.6" r="1.22"/><circle cx="447.1" cy="232.0" r="1.22"/><circle cx="447.2" cy="236.0" r="1.22"/><circle cx="448.0" cy="253.4" r="1.22"/><circle cx="448.1" cy="253.6" r="1.22"/><circle cx="448.5" cy="240.3" r="1.22"/><circle cx="448.5" cy="218.4" r="1.22"/><circle cx="449.3" cy="239.2" r="1.22"/><circle cx="449.1" cy="240.6" r="1.22"/><circle cx="449.5" cy="244.1" r="1.22"/><circle cx="449.8" cy="241.3" r="1.22"/><circle cx="450.5" cy="220.0" r="1.22"/><circle cx="450.9" cy="223.5" r="1.22"/><circle cx="450.8" cy="242.4" r="1.22"/><circle cx="451.8" cy="245.3" r="1.22"/><circle cx="451.4" cy="230.2" r="1.22"/><circle cx="451.6" cy="226.4" r="1.22"/><circle cx="452.1" cy="228.0" r="1.22"/><circle cx="452.5" cy="241.8" r="1.22"/><circle cx="452.7" cy="243.4" r="1.22"/><circle cx="452.9" cy="232.4" r="1.22"/><circle cx="453.1" cy="223.6" r="1.22"/><circle cx="453.4" cy="243.1" r="1.22"/><circle cx="453.7" cy="239.1" r="1.22"/><circle cx="454.0" cy="243.4" r="1.22"/><circle cx="454.4" cy="255.7" r="1.22"/><circle cx="455.0" cy="230.1" r="1.22"/><circle cx="455.7" cy="238.1" r="1.22"/><circle cx="455.4" cy="236.0" r="1.22"/><circle cx="456.2" cy="229.0" r="1.22"/><circle cx="456.8" cy="251.3" r="1.22"/><circle cx="456.2" cy="217.4" r="1.22"/><circle cx="457.2" cy="224.3" r="1.22"/><circle cx="457.0" cy="222.6" r="1.22"/><circle cx="457.7" cy="245.2" r="1.22"/><circle cx="458.2" cy="234.2" r="1.22"/><circle cx="458.0" cy="224.9" r="1.22"/><circle cx="458.9" cy="209.6" r="1.22"/><circle cx="459.0" cy="228.1" r="1.22"/><circle cx="458.9" cy="208.9" r="1.22"/><circle cx="459.6" cy="229.6" r="1.22"/><circle cx="459.4" cy="222.2" r="1.22"/><circle cx="459.9" cy="236.6" r="1.22"/><circle cx="460.5" cy="216.5" r="1.22"/><circle cx="460.3" cy="213.4" r="1.22"/><circle cx="460.7" cy="235.1" r="1.22"/><circle cx="461.4" cy="234.6" r="1.22"/><circle cx="461.1" cy="224.2" r="1.22"/><circle cx="461.9" cy="248.2" r="1.22"/><circle cx="462.3" cy="248.7" r="1.22"/><circle cx="462.8" cy="233.4" r="1.22"/><circle cx="463.0" cy="228.9" r="1.22"/><circle cx="462.8" cy="230.8" r="1.22"/><circle cx="463.3" cy="232.2" r="1.22"/><circle cx="463.9" cy="232.7" r="1.22"/><circle cx="464.1" cy="217.4" r="1.22"/><circle cx="464.3" cy="228.4" r="1.22"/><circle cx="464.7" cy="220.4" r="1.22"/><circle cx="464.2" cy="224.1" r="1.22"/><circle cx="465.2" cy="226.2" r="1.22"/><circle cx="465.1" cy="226.3" r="1.22"/><circle cx="464.9" cy="226.9" r="1.22"/><circle cx="466.1" cy="222.9" r="1.22"/><circle cx="466.3" cy="222.1" r="1.22"/><circle cx="466.2" cy="222.5" r="1.22"/><circle cx="466.8" cy="230.0" r="1.22"/><circle cx="466.7" cy="231.5" r="1.22"/><circle cx="467.0" cy="235.1" r="1.22"/><circle cx="466.8" cy="228.5" r="1.22"/><circle cx="467.7" cy="226.7" r="1.22"/><circle cx="468.3" cy="238.2" r="1.22"/><circle cx="468.0" cy="238.1" r="1.22"/><circle cx="468.5" cy="234.2" r="1.22"/><circle cx="468.3" cy="226.6" r="1.22"/><circle cx="468.9" cy="258.5" r="1.22"/><circle cx="469.1" cy="233.5" r="1.22"/><circle cx="469.3" cy="224.3" r="1.22"/><circle cx="469.8" cy="215.0" r="1.22"/><circle cx="469.9" cy="233.9" r="1.22"/><circle cx="470.5" cy="218.5" r="1.22"/><circle cx="470.8" cy="225.3" r="1.22"/><circle cx="470.4" cy="226.4" r="1.22"/><circle cx="471.4" cy="225.8" r="1.22"/><circle cx="471.5" cy="221.4" r="1.22"/><circle cx="471.5" cy="217.1" r="1.22"/><circle cx="471.5" cy="228.2" r="1.22"/><circle cx="472.0" cy="212.3" r="1.22"/><circle cx="472.0" cy="228.2" r="1.22"/><circle cx="472.2" cy="229.5" r="1.22"/><circle cx="473.0" cy="224.9" r="1.22"/><circle cx="473.0" cy="231.4" r="1.22"/><circle cx="473.8" cy="227.6" r="1.22"/><circle cx="473.5" cy="229.0" r="1.22"/><circle cx="474.2" cy="229.0" r="1.22"/><circle cx="473.9" cy="217.9" r="1.22"/><circle cx="473.9" cy="225.6" r="1.22"/><circle cx="474.7" cy="218.1" r="1.22"/><circle cx="474.5" cy="212.9" r="1.22"/><circle cx="475.0" cy="207.7" r="1.22"/><circle cx="475.1" cy="215.4" r="1.22"/><circle cx="475.8" cy="214.7" r="1.22"/><circle cx="475.7" cy="222.5" r="1.22"/><circle cx="476.1" cy="219.2" r="1.22"/><circle cx="476.2" cy="221.5" r="1.22"/><circle cx="476.4" cy="218.9" r="1.22"/><circle cx="476.5" cy="230.3" r="1.22"/><circle cx="477.2" cy="223.8" r="1.22"/><circle cx="477.0" cy="224.6" r="1.22"/><circle cx="477.6" cy="202.2" r="1.22"/><circle cx="477.5" cy="207.4" r="1.22"/><circle cx="478.3" cy="224.5" r="1.22"/><circle cx="478.9" cy="187.4" r="1.22"/><circle cx="478.9" cy="218.7" r="1.22"/><circle cx="478.6" cy="221.8" r="1.22"/><circle cx="479.1" cy="225.0" r="1.22"/><circle cx="479.0" cy="210.5" r="1.22"/><circle cx="480.0" cy="211.5" r="1.22"/><circle cx="479.6" cy="207.3" r="1.22"/><circle cx="480.1" cy="208.0" r="1.22"/><circle cx="480.3" cy="224.7" r="1.22"/><circle cx="480.8" cy="209.3" r="1.22"/><circle cx="481.0" cy="211.5" r="1.22"/><circle cx="481.0" cy="206.3" r="1.22"/><circle cx="481.1" cy="218.4" r="1.22"/><circle cx="481.2" cy="211.9" r="1.22"/><circle cx="482.3" cy="215.6" r="1.22"/><circle cx="482.3" cy="217.5" r="1.22"/><circle cx="482.6" cy="216.8" r="1.22"/><circle cx="482.7" cy="208.6" r="1.22"/><circle cx="483.0" cy="219.4" r="1.22"/><circle cx="483.4" cy="199.0" r="1.22"/><circle cx="483.5" cy="220.1" r="1.22"/><circle cx="484.0" cy="227.6" r="1.22"/><circle cx="484.3" cy="225.1" r="1.22"/><circle cx="483.8" cy="198.8" r="1.22"/><circle cx="484.4" cy="212.5" r="1.22"/><circle cx="484.7" cy="198.8" r="1.22"/><circle cx="485.1" cy="200.5" r="1.22"/><circle cx="485.5" cy="218.1" r="1.22"/><circle cx="485.5" cy="200.4" r="1.22"/><circle cx="485.4" cy="212.2" r="1.22"/><circle cx="485.5" cy="213.0" r="1.22"/><circle cx="485.5" cy="207.9" r="1.22"/><circle cx="486.2" cy="200.4" r="1.22"/><circle cx="486.1" cy="206.9" r="1.22"/><circle cx="486.5" cy="211.1" r="1.22"/><circle cx="486.8" cy="215.8" r="1.22"/><circle cx="486.8" cy="212.9" r="1.22"/><circle cx="487.9" cy="220.3" r="1.22"/><circle cx="487.8" cy="212.1" r="1.22"/><circle cx="487.5" cy="220.8" r="1.22"/><circle cx="488.5" cy="215.8" r="1.22"/><circle cx="488.1" cy="217.0" r="1.22"/><circle cx="488.1" cy="205.0" r="1.22"/><circle cx="488.6" cy="195.5" r="1.22"/><circle cx="489.4" cy="214.3" r="1.22"/><circle cx="489.6" cy="210.3" r="1.22"/><circle cx="489.7" cy="206.4" r="1.22"/><circle cx="490.2" cy="209.1" r="1.22"/><circle cx="489.8" cy="215.7" r="1.22"/><circle cx="490.6" cy="198.8" r="1.22"/><circle cx="490.7" cy="208.1" r="1.22"/><circle cx="490.6" cy="200.8" r="1.22"/><circle cx="491.4" cy="190.9" r="1.22"/><circle cx="491.1" cy="208.7" r="1.22"/><circle cx="491.7" cy="218.7" r="1.22"/><circle cx="492.0" cy="217.0" r="1.22"/><circle cx="491.4" cy="219.5" r="1.22"/><circle cx="491.8" cy="203.7" r="1.22"/><circle cx="491.9" cy="205.1" r="1.22"/><circle cx="492.4" cy="206.1" r="1.22"/><circle cx="492.9" cy="189.0" r="1.22"/><circle cx="493.5" cy="197.2" r="1.22"/><circle cx="493.3" cy="208.8" r="1.22"/><circle cx="493.4" cy="207.7" r="1.22"/><circle cx="493.4" cy="203.2" r="1.22"/><circle cx="493.5" cy="208.2" r="1.22"/><circle cx="493.8" cy="205.3" r="1.22"/><circle cx="494.3" cy="198.1" r="1.22"/><circle cx="494.3" cy="200.3" r="1.22"/><circle cx="494.6" cy="201.8" r="1.22"/><circle cx="494.9" cy="197.3" r="1.22"/><circle cx="495.3" cy="210.3" r="1.22"/><circle cx="495.7" cy="209.8" r="1.22"/><circle cx="495.8" cy="208.9" r="1.22"/><circle cx="496.1" cy="202.2" r="1.22"/><circle cx="496.7" cy="190.8" r="1.22"/><circle cx="496.9" cy="201.5" r="1.22"/><circle cx="497.0" cy="205.8" r="1.22"/><circle cx="497.0" cy="201.2" r="1.22"/><circle cx="497.3" cy="187.0" r="1.22"/><circle cx="497.0" cy="196.2" r="1.22"/><circle cx="497.7" cy="200.9" r="1.22"/><circle cx="497.9" cy="188.4" r="1.22"/><circle cx="497.8" cy="202.1" r="1.22"/><circle cx="498.2" cy="202.0" r="1.22"/><circle cx="498.7" cy="203.8" r="1.22"/><circle cx="498.3" cy="202.8" r="1.22"/><circle cx="499.2" cy="195.7" r="1.22"/><circle cx="499.7" cy="193.4" r="1.22"/><circle cx="499.5" cy="204.6" r="1.22"/><circle cx="499.3" cy="203.1" r="1.22"/><circle cx="499.9" cy="188.2" r="1.22"/><circle cx="500.3" cy="197.4" r="1.22"/><circle cx="500.2" cy="193.6" r="1.22"/><circle cx="500.3" cy="193.7" r="1.22"/><circle cx="501.1" cy="189.2" r="1.22"/><circle cx="500.7" cy="193.1" r="1.22"/><circle cx="501.7" cy="203.1" r="1.22"/><circle cx="501.2" cy="193.9" r="1.22"/><circle cx="501.3" cy="204.0" r="1.22"/><circle cx="501.7" cy="201.4" r="1.22"/><circle cx="502.2" cy="202.2" r="1.22"/><circle cx="502.3" cy="194.0" r="1.22"/><circle cx="502.4" cy="188.4" r="1.22"/><circle cx="502.7" cy="203.2" r="1.22"/><circle cx="503.2" cy="188.8" r="1.22"/><circle cx="503.4" cy="196.3" r="1.22"/><circle cx="503.9" cy="201.8" r="1.22"/><circle cx="503.9" cy="200.0" r="1.22"/><circle cx="503.9" cy="188.7" r="1.22"/><circle cx="504.2" cy="190.0" r="1.22"/><circle cx="504.9" cy="204.7" r="1.22"/><circle cx="504.7" cy="182.8" r="1.22"/><circle cx="505.2" cy="189.7" r="1.22"/><circle cx="505.2" cy="191.9" r="1.22"/><circle cx="505.7" cy="200.4" r="1.22"/><circle cx="505.9" cy="202.4" r="1.22"/><circle cx="506.3" cy="179.0" r="1.22"/><circle cx="506.0" cy="193.0" r="1.22"/><circle cx="506.3" cy="198.6" r="1.22"/><circle cx="506.2" cy="200.9" r="1.22"/><circle cx="507.2" cy="205.1" r="1.22"/><circle cx="507.3" cy="194.4" r="1.22"/><circle cx="507.0" cy="188.0" r="1.22"/><circle cx="507.1" cy="188.1" r="1.22"/><circle cx="507.8" cy="193.7" r="1.22"/><circle cx="508.4" cy="206.2" r="1.22"/><circle cx="508.4" cy="190.3" r="1.22"/><circle cx="508.7" cy="173.4" r="1.22"/><circle cx="508.6" cy="194.5" r="1.22"/><circle cx="508.6" cy="190.0" r="1.22"/><circle cx="509.3" cy="181.1" r="1.22"/><circle cx="509.4" cy="191.2" r="1.22"/><circle cx="510.0" cy="198.9" r="1.22"/><circle cx="509.3" cy="193.0" r="1.22"/><circle cx="510.4" cy="168.8" r="1.22"/><circle cx="510.5" cy="196.3" r="1.22"/><circle cx="510.3" cy="189.1" r="1.22"/><circle cx="510.6" cy="180.8" r="1.22"/><circle cx="510.5" cy="188.2" r="1.22"/><circle cx="511.2" cy="193.4" r="1.22"/><circle cx="511.6" cy="178.5" r="1.22"/><circle cx="511.7" cy="190.2" r="1.22"/><circle cx="512.0" cy="189.9" r="1.22"/><circle cx="512.3" cy="191.7" r="1.22"/><circle cx="511.8" cy="191.1" r="1.22"/><circle cx="512.8" cy="200.1" r="1.22"/><circle cx="513.2" cy="189.2" r="1.22"/><circle cx="513.1" cy="185.7" r="1.22"/><circle cx="513.2" cy="193.8" r="1.22"/><circle cx="513.2" cy="196.9" r="1.22"/><circle cx="513.4" cy="197.8" r="1.22"/><circle cx="513.6" cy="197.5" r="1.22"/><circle cx="514.2" cy="185.1" r="1.22"/><circle cx="514.0" cy="192.5" r="1.22"/><circle cx="515.0" cy="185.3" r="1.22"/><circle cx="514.6" cy="201.6" r="1.22"/><circle cx="514.7" cy="194.7" r="1.22"/><circle cx="515.4" cy="172.5" r="1.22"/><circle cx="515.3" cy="191.0" r="1.22"/><circle cx="515.3" cy="201.7" r="1.22"/><circle cx="515.7" cy="176.7" r="1.22"/><circle cx="515.9" cy="179.7" r="1.22"/><circle cx="516.2" cy="172.2" r="1.22"/><circle cx="517.0" cy="194.7" r="1.22"/><circle cx="516.9" cy="186.4" r="1.22"/><circle cx="517.2" cy="183.8" r="1.22"/><circle cx="517.4" cy="183.4" r="1.22"/><circle cx="517.8" cy="187.6" r="1.22"/><circle cx="517.8" cy="191.1" r="1.22"/><circle cx="518.0" cy="186.3" r="1.22"/><circle cx="518.6" cy="186.6" r="1.22"/><circle cx="518.0" cy="164.5" r="1.22"/><circle cx="518.6" cy="190.3" r="1.22"/><circle cx="519.3" cy="177.1" r="1.22"/><circle cx="519.1" cy="182.3" r="1.22"/><circle cx="518.9" cy="184.1" r="1.22"/><circle cx="519.3" cy="189.7" r="1.22"/><circle cx="519.7" cy="196.1" r="1.22"/><circle cx="520.1" cy="180.8" r="1.22"/><circle cx="520.6" cy="192.0" r="1.22"/><circle cx="520.4" cy="180.5" r="1.22"/><circle cx="521.1" cy="179.7" r="1.22"/><circle cx="521.0" cy="196.3" r="1.22"/><circle cx="521.2" cy="174.9" r="1.22"/><circle cx="521.5" cy="177.5" r="1.22"/><circle cx="521.7" cy="188.9" r="1.22"/><circle cx="522.2" cy="172.3" r="1.22"/><circle cx="521.6" cy="174.6" r="1.22"/><circle cx="522.0" cy="180.8" r="1.22"/><circle cx="522.3" cy="175.9" r="1.22"/><circle cx="523.0" cy="177.6" r="1.22"/><circle cx="522.6" cy="188.8" r="1.22"/><circle cx="522.8" cy="165.4" r="1.22"/><circle cx="523.1" cy="190.5" r="1.22"/><circle cx="523.4" cy="179.1" r="1.22"/><circle cx="524.4" cy="175.9" r="1.22"/><circle cx="524.7" cy="193.2" r="1.22"/><circle cx="524.6" cy="177.4" r="1.22"/><circle cx="524.8" cy="185.1" r="1.22"/><circle cx="525.4" cy="174.0" r="1.22"/><circle cx="525.0" cy="175.7" r="1.22"/><circle cx="525.6" cy="185.8" r="1.22"/><circle cx="525.4" cy="181.2" r="1.22"/><circle cx="525.7" cy="166.3" r="1.22"/><circle cx="526.2" cy="165.3" r="1.22"/><circle cx="525.9" cy="175.4" r="1.22"/><circle cx="526.7" cy="183.9" r="1.22"/><circle cx="526.3" cy="180.8" r="1.22"/><circle cx="527.2" cy="168.3" r="1.22"/><circle cx="527.6" cy="173.7" r="1.22"/><circle cx="527.5" cy="180.1" r="1.22"/><circle cx="528.0" cy="183.8" r="1.22"/><circle cx="527.7" cy="188.4" r="1.22"/><circle cx="527.8" cy="172.3" r="1.22"/><circle cx="528.0" cy="164.0" r="1.22"/><circle cx="528.7" cy="169.2" r="1.22"/><circle cx="528.9" cy="169.5" r="1.22"/><circle cx="529.5" cy="180.8" r="1.22"/><circle cx="529.2" cy="172.6" r="1.22"/><circle cx="529.9" cy="190.9" r="1.22"/><circle cx="529.7" cy="166.6" r="1.22"/><circle cx="530.0" cy="181.5" r="1.22"/><circle cx="530.5" cy="166.1" r="1.22"/><circle cx="530.4" cy="176.0" r="1.22"/><circle cx="530.4" cy="164.2" r="1.22"/><circle cx="530.9" cy="163.6" r="1.22"/><circle cx="531.6" cy="183.4" r="1.22"/><circle cx="531.9" cy="179.0" r="1.22"/><circle cx="532.0" cy="166.2" r="1.22"/><circle cx="532.2" cy="168.7" r="1.22"/><circle cx="532.3" cy="169.0" r="1.22"/><circle cx="531.9" cy="156.0" r="1.22"/><circle cx="532.1" cy="173.2" r="1.22"/><circle cx="532.4" cy="184.0" r="1.22"/><circle cx="533.4" cy="173.9" r="1.22"/><circle cx="533.0" cy="179.3" r="1.22"/><circle cx="533.4" cy="177.6" r="1.22"/><circle cx="534.1" cy="151.1" r="1.22"/><circle cx="533.6" cy="198.4" r="1.22"/><circle cx="534.5" cy="180.3" r="1.22"/><circle cx="534.9" cy="172.0" r="1.22"/><circle cx="534.3" cy="158.5" r="1.22"/><circle cx="534.5" cy="180.0" r="1.22"/><circle cx="535.0" cy="186.2" r="1.22"/><circle cx="535.3" cy="185.7" r="1.22"/><circle cx="535.6" cy="183.7" r="1.22"/><circle cx="535.7" cy="161.6" r="1.22"/><circle cx="535.9" cy="191.8" r="1.22"/><circle cx="536.3" cy="169.7" r="1.22"/><circle cx="536.2" cy="177.3" r="1.22"/><circle cx="536.3" cy="173.9" r="1.22"/><circle cx="536.6" cy="162.4" r="1.22"/><circle cx="537.0" cy="170.1" r="1.22"/><circle cx="537.5" cy="164.7" r="1.22"/><circle cx="538.0" cy="163.1" r="1.22"/><circle cx="538.1" cy="166.2" r="1.22"/><circle cx="538.4" cy="168.0" r="1.22"/><circle cx="538.5" cy="159.2" r="1.22"/><circle cx="538.2" cy="161.8" r="1.22"/><circle cx="538.4" cy="175.3" r="1.22"/><circle cx="538.8" cy="164.4" r="1.22"/><circle cx="538.8" cy="165.5" r="1.22"/><circle cx="539.8" cy="167.2" r="1.22"/><circle cx="539.8" cy="150.7" r="1.22"/><circle cx="539.9" cy="168.9" r="1.22"/><circle cx="540.6" cy="157.4" r="1.22"/><circle cx="540.5" cy="175.3" r="1.22"/><circle cx="540.8" cy="166.1" r="1.22"/><circle cx="540.6" cy="157.9" r="1.22"/><circle cx="541.4" cy="166.2" r="1.22"/><circle cx="541.8" cy="174.4" r="1.22"/><circle cx="541.6" cy="164.3" r="1.22"/><circle cx="541.9" cy="170.1" r="1.22"/><circle cx="542.2" cy="190.8" r="1.22"/><circle cx="541.9" cy="172.5" r="1.22"/><circle cx="543.0" cy="154.9" r="1.22"/><circle cx="543.3" cy="152.0" r="1.22"/><circle cx="543.3" cy="154.8" r="1.22"/><circle cx="542.9" cy="156.2" r="1.22"/><circle cx="543.5" cy="170.3" r="1.22"/><circle cx="543.4" cy="173.9" r="1.22"/><circle cx="543.5" cy="168.3" r="1.22"/><circle cx="544.3" cy="143.7" r="1.22"/><circle cx="544.1" cy="148.6" r="1.22"/><circle cx="544.7" cy="181.9" r="1.22"/><circle cx="545.3" cy="169.5" r="1.22"/><circle cx="544.9" cy="152.1" r="1.22"/><circle cx="545.4" cy="150.2" r="1.22"/><circle cx="545.3" cy="172.9" r="1.22"/><circle cx="545.4" cy="158.3" r="1.22"/><circle cx="546.3" cy="155.1" r="1.22"/><circle cx="546.7" cy="160.6" r="1.22"/><circle cx="546.3" cy="169.1" r="1.22"/><circle cx="546.9" cy="157.4" r="1.22"/><circle cx="547.3" cy="159.9" r="1.22"/><circle cx="547.6" cy="150.0" r="1.22"/><circle cx="547.6" cy="162.6" r="1.22"/><circle cx="548.0" cy="177.3" r="1.22"/><circle cx="547.7" cy="156.7" r="1.22"/><circle cx="548.5" cy="156.0" r="1.22"/><circle cx="548.2" cy="168.5" r="1.22"/><circle cx="548.9" cy="157.8" r="1.22"/><circle cx="548.8" cy="158.0" r="1.22"/><circle cx="548.6" cy="162.0" r="1.22"/><circle cx="549.2" cy="144.5" r="1.22"/><circle cx="549.7" cy="157.4" r="1.22"/><circle cx="549.7" cy="156.3" r="1.22"/><circle cx="549.6" cy="169.9" r="1.22"/><circle cx="550.2" cy="189.9" r="1.22"/><circle cx="550.5" cy="155.6" r="1.22"/><circle cx="551.1" cy="156.6" r="1.22"/><circle cx="550.9" cy="155.4" r="1.22"/><circle cx="551.4" cy="148.4" r="1.22"/><circle cx="551.1" cy="139.6" r="1.22"/><circle cx="552.1" cy="158.9" r="1.22"/><circle cx="551.4" cy="132.1" r="1.22"/><circle cx="551.9" cy="155.6" r="1.22"/><circle cx="552.7" cy="156.4" r="1.22"/><circle cx="552.5" cy="163.1" r="1.22"/><circle cx="552.8" cy="150.9" r="1.22"/><circle cx="553.4" cy="163.9" r="1.22"/><circle cx="553.6" cy="167.8" r="1.22"/><circle cx="553.6" cy="179.0" r="1.22"/><circle cx="554.2" cy="152.6" r="1.22"/><circle cx="553.5" cy="163.1" r="1.22"/><circle cx="553.8" cy="210.4" r="1.22"/><circle cx="554.2" cy="164.5" r="1.22"/><circle cx="555.1" cy="150.2" r="1.22"/><circle cx="555.4" cy="152.1" r="1.22"/><circle cx="554.8" cy="156.6" r="1.22"/><circle cx="555.0" cy="160.0" r="1.22"/><circle cx="555.6" cy="151.4" r="1.22"/><circle cx="556.2" cy="159.4" r="1.22"/><circle cx="555.9" cy="157.0" r="1.22"/><circle cx="556.7" cy="158.7" r="1.22"/><circle cx="556.5" cy="145.8" r="1.22"/><circle cx="556.3" cy="153.3" r="1.22"/><circle cx="556.7" cy="161.2" r="1.22"/><circle cx="556.9" cy="188.6" r="1.22"/><circle cx="557.7" cy="145.9" r="1.22"/><circle cx="557.9" cy="138.5" r="1.22"/><circle cx="557.8" cy="170.3" r="1.22"/><circle cx="558.0" cy="141.4" r="1.22"/><circle cx="558.2" cy="148.5" r="1.22"/><circle cx="558.9" cy="175.7" r="1.22"/><circle cx="558.8" cy="171.9" r="1.22"/><circle cx="558.7" cy="157.2" r="1.22"/><circle cx="558.9" cy="185.3" r="1.22"/><circle cx="559.7" cy="147.6" r="1.22"/><circle cx="559.5" cy="153.2" r="1.22"/><circle cx="560.1" cy="155.5" r="1.22"/><circle cx="559.7" cy="150.3" r="1.22"/><circle cx="560.6" cy="157.3" r="1.22"/><circle cx="560.6" cy="169.0" r="1.22"/><circle cx="561.3" cy="136.5" r="1.22"/><circle cx="560.8" cy="142.5" r="1.22"/><circle cx="561.5" cy="152.5" r="1.22"/><circle cx="561.9" cy="138.3" r="1.22"/><circle cx="561.5" cy="159.6" r="1.22"/><circle cx="562.2" cy="159.2" r="1.22"/><circle cx="562.3" cy="150.6" r="1.22"/><circle cx="562.8" cy="140.1" r="1.22"/><circle cx="562.6" cy="159.7" r="1.22"/><circle cx="563.3" cy="169.5" r="1.22"/><circle cx="563.4" cy="143.2" r="1.22"/><circle cx="563.9" cy="142.4" r="1.22"/><circle cx="564.2" cy="131.6" r="1.22"/><circle cx="564.5" cy="131.2" r="1.22"/><circle cx="564.6" cy="146.1" r="1.22"/><circle cx="564.8" cy="143.1" r="1.22"/><circle cx="564.4" cy="159.6" r="1.22"/><circle cx="564.6" cy="138.9" r="1.22"/><circle cx="565.6" cy="169.3" r="1.22"/><circle cx="565.6" cy="132.6" r="1.22"/><circle cx="565.4" cy="137.2" r="1.22"/><circle cx="566.1" cy="144.0" r="1.22"/><circle cx="566.3" cy="141.7" r="1.22"/><circle cx="566.5" cy="150.0" r="1.22"/><circle cx="567.1" cy="165.0" r="1.22"/><circle cx="566.6" cy="147.5" r="1.22"/><circle cx="567.4" cy="134.9" r="1.22"/><circle cx="567.4" cy="147.7" r="1.22"/><circle cx="568.1" cy="181.3" r="1.22"/><circle cx="568.3" cy="159.7" r="1.22"/><circle cx="568.8" cy="147.5" r="1.22"/><circle cx="568.9" cy="136.1" r="1.22"/><circle cx="568.6" cy="156.6" r="1.22"/><circle cx="569.5" cy="149.9" r="1.22"/><circle cx="569.9" cy="126.2" r="1.22"/><circle cx="569.5" cy="147.6" r="1.22"/><circle cx="570.0" cy="138.3" r="1.22"/><circle cx="570.2" cy="174.8" r="1.22"/><circle cx="570.3" cy="154.3" r="1.22"/><circle cx="570.4" cy="144.2" r="1.22"/><circle cx="571.2" cy="133.8" r="1.22"/><circle cx="571.6" cy="128.6" r="1.22"/><circle cx="571.4" cy="147.3" r="1.22"/><circle cx="571.6" cy="171.5" r="1.22"/><circle cx="572.3" cy="127.4" r="1.22"/><circle cx="572.1" cy="151.7" r="1.22"/><circle cx="572.8" cy="148.2" r="1.22"/><circle cx="573.1" cy="127.9" r="1.22"/><circle cx="573.2" cy="146.7" r="1.22"/><circle cx="573.3" cy="142.1" r="1.22"/><circle cx="573.4" cy="151.9" r="1.22"/><circle cx="574.0" cy="103.2" r="1.22"/><circle cx="574.8" cy="136.3" r="1.22"/><circle cx="574.8" cy="144.4" r="1.22"/><circle cx="574.8" cy="145.5" r="1.22"/><circle cx="575.0" cy="133.6" r="1.22"/><circle cx="576.1" cy="137.8" r="1.22"/><circle cx="576.2" cy="140.6" r="1.22"/><circle cx="576.3" cy="144.2" r="1.22"/><circle cx="577.0" cy="121.3" r="1.22"/><circle cx="576.9" cy="136.0" r="1.22"/><circle cx="576.7" cy="140.4" r="1.22"/><circle cx="577.3" cy="171.1" r="1.22"/><circle cx="577.3" cy="137.0" r="1.22"/><circle cx="577.9" cy="131.5" r="1.22"/><circle cx="578.4" cy="172.7" r="1.22"/><circle cx="578.7" cy="139.3" r="1.22"/><circle cx="578.8" cy="135.2" r="1.22"/><circle cx="579.7" cy="143.8" r="1.22"/><circle cx="579.6" cy="139.2" r="1.22"/><circle cx="579.9" cy="142.2" r="1.22"/><circle cx="580.6" cy="124.1" r="1.22"/><circle cx="581.0" cy="148.5" r="1.22"/><circle cx="580.7" cy="136.9" r="1.22"/><circle cx="581.3" cy="131.4" r="1.22"/><circle cx="581.2" cy="116.2" r="1.22"/><circle cx="581.9" cy="137.2" r="1.22"/><circle cx="582.2" cy="133.6" r="1.22"/><circle cx="582.9" cy="108.4" r="1.22"/><circle cx="583.1" cy="128.4" r="1.22"/><circle cx="583.7" cy="152.9" r="1.22"/><circle cx="584.1" cy="121.1" r="1.22"/><circle cx="584.1" cy="122.6" r="1.22"/><circle cx="584.5" cy="126.0" r="1.22"/><circle cx="584.4" cy="152.0" r="1.22"/><circle cx="584.8" cy="100.2" r="1.22"/><circle cx="585.2" cy="155.8" r="1.22"/><circle cx="585.9" cy="134.5" r="1.22"/><circle cx="585.7" cy="127.2" r="1.22"/><circle cx="586.5" cy="131.1" r="1.22"/><circle cx="586.4" cy="135.7" r="1.22"/><circle cx="587.3" cy="138.0" r="1.22"/><circle cx="587.2" cy="133.2" r="1.22"/><circle cx="588.2" cy="112.2" r="1.22"/><circle cx="588.8" cy="118.0" r="1.22"/><circle cx="589.2" cy="120.6" r="1.22"/><circle cx="589.2" cy="120.6" r="1.22"/><circle cx="589.6" cy="127.2" r="1.22"/><circle cx="589.8" cy="103.5" r="1.22"/><circle cx="590.0" cy="110.2" r="1.22"/><circle cx="590.3" cy="120.5" r="1.22"/><circle cx="591.1" cy="141.3" r="1.22"/><circle cx="591.9" cy="108.5" r="1.22"/><circle cx="592.3" cy="133.6" r="1.22"/><circle cx="637.3" cy="78.3" r="1.22"/><circle cx="640.5" cy="82.3" r="1.22"/><circle cx="608.1" cy="86.4" r="1.22"/><circle cx="622.7" cy="86.1" r="1.22"/><circle cx="623.9" cy="88.8" r="1.22"/><circle cx="635" cy="87.9" r="1.22"/><circle cx="616.9" cy="90.2" r="1.22"/><circle cx="618.6" cy="96.1" r="1.22"/><circle cx="619.2" cy="95.5" r="1.22"/><circle cx="611.6" cy="97.8" r="1.22"/><circle cx="609.8" cy="100.3" r="1.22"/><circle cx="607.5" cy="101.3" r="1.22"/><circle cx="606.9" cy="103.8" r="1.22"/><circle cx="605.2" cy="104.2" r="1.22"/><circle cx="603.5" cy="106.2" r="1.22"/><circle cx="602.8" cy="106.6" r="1.22"/><circle cx="601.2" cy="108.3" r="1.22"/><circle cx="600.5" cy="108.9" r="1.22"/><circle cx="598.6" cy="110.1" r="1.22"/><circle cx="604.1" cy="102.4" r="1.22"/><circle cx="601.3" cy="105.2" r="1.22"/><circle cx="597.6" cy="98.4" r="1.22"/><circle cx="617.4" cy="105.4" r="1.22"/><circle cx="626" cy="106" r="1.22"/><circle cx="632" cy="104.2" r="1.22"/><circle cx="608.7" cy="108.9" r="1.22"/><circle cx="625" cy="111.5" r="1.22"/><circle cx="630.6" cy="109.5" r="1.22"/><circle cx="633.2" cy="112.4" r="1.22"/><circle cx="600.5" cy="114.2" r="1.22"/><circle cx="597" cy="113.6" r="1.22"/><circle cx="595.8" cy="117.1" r="1.22"/><circle cx="592.3" cy="117.1" r="1.22"/><circle cx="593.5" cy="114.7" r="1.22"/><circle cx="606.9" cy="119.4" r="1.22"/><circle cx="610.4" cy="119.6" r="1.22"/><circle cx="412.2" cy="231.6" r="1.22"/><circle cx="415.7" cy="229.9" r="1.22"/><circle cx="418.6" cy="228.7" r="1.22"/><circle cx="425" cy="226.4" r="1.22"/><circle cx="427.9" cy="225.4" r="1.22"/><circle cx="432.6" cy="224.2" r="1.22"/><circle cx="435.5" cy="223.1" r="1.22"/><circle cx="439" cy="221.7" r="1.22"/><circle cx="439.6" cy="222.8" r="1.22"/><circle cx="443.7" cy="219.9" r="1.22"/><circle cx="447.2" cy="218.4" r="1.22"/><circle cx="450.1" cy="217.2" r="1.22"/><circle cx="452.5" cy="216.4" r="1.22"/><circle cx="456" cy="215.3" r="1.22"/><circle cx="458.9" cy="214.4" r="1.22"/><circle cx="462.4" cy="212.6" r="1.22"/><circle cx="465.3" cy="211.8" r="1.22"/><circle cx="469.4" cy="210.6" r="1.22"/><circle cx="421.5" cy="215.3" r="1.22"/><circle cx="426.8" cy="213.5" r="1.22"/><circle cx="435.5" cy="211.2" r="1.22"/><circle cx="562" cy="231" r="1.22"/><circle cx="484.6" cy="159.9" r="1.22"/><circle cx="494.5" cy="162.8" r="1.22"/><circle cx="478.8" cy="175.7" r="1.22"/><circle cx="576.7" cy="166.5" r="1.22"/><circle cx="587.8" cy="166.5" r="1.22"/><circle cx="594.8" cy="163" r="1.22"/><circle cx="601.2" cy="147" r="1.22"/><circle cx="532.3" cy="133" r="1.22"/><circle cx="553.9" cy="118" r="1.22"/></g>
<line x1="411.50" y1="288.50" x2="680.30" y2="27.50" stroke="#a6a6a6" stroke-width="1.6"/>
<rect x="411.50" y="27.50" width="268.80" height="261.00" fill="none" stroke="#2b2b2b" stroke-width="1"/>
<line x1="420.90" y1="288.50" x2="420.90" y2="295.80" stroke="#2b2b2b" stroke-width="1.1"/>
<line x1="404.20" y1="279.10" x2="411.50" y2="279.10" stroke="#2b2b2b" stroke-width="1.1"/>
<line x1="467.98" y1="288.50" x2="467.98" y2="295.80" stroke="#2b2b2b" stroke-width="1.1"/>
<line x1="404.20" y1="233.26" x2="411.50" y2="233.26" stroke="#2b2b2b" stroke-width="1.1"/>
<line x1="488.25" y1="288.50" x2="488.25" y2="295.80" stroke="#2b2b2b" stroke-width="1.1"/>
<line x1="404.20" y1="213.52" x2="411.50" y2="213.52" stroke="#2b2b2b" stroke-width="1.1"/>
<line x1="535.33" y1="288.50" x2="535.33" y2="295.80" stroke="#2b2b2b" stroke-width="1.1"/>
<line x1="404.20" y1="167.68" x2="411.50" y2="167.68" stroke="#2b2b2b" stroke-width="1.1"/>
<line x1="555.60" y1="288.50" x2="555.60" y2="295.80" stroke="#2b2b2b" stroke-width="1.1"/>
<line x1="404.20" y1="147.94" x2="411.50" y2="147.94" stroke="#2b2b2b" stroke-width="1.1"/>
<line x1="602.68" y1="288.50" x2="602.68" y2="295.80" stroke="#2b2b2b" stroke-width="1.1"/>
<line x1="404.20" y1="102.10" x2="411.50" y2="102.10" stroke="#2b2b2b" stroke-width="1.1"/>
<line x1="622.95" y1="288.50" x2="622.95" y2="295.80" stroke="#2b2b2b" stroke-width="1.1"/>
<line x1="404.20" y1="82.36" x2="411.50" y2="82.36" stroke="#2b2b2b" stroke-width="1.1"/>
<line x1="670.03" y1="288.50" x2="670.03" y2="295.80" stroke="#2b2b2b" stroke-width="1.1"/>
<line x1="404.20" y1="36.52" x2="411.50" y2="36.52" stroke="#2b2b2b" stroke-width="1.1"/>
<text x="421.00" y="314.90" text-anchor="middle">0.001</text>
<text x="393.80" y="279.10" text-anchor="middle" transform="rotate(-90 393.80 279.10)">0.001</text>
<text x="468.08" y="314.90" text-anchor="middle">0.005</text>
<text x="393.80" y="233.26" text-anchor="middle" transform="rotate(-90 393.80 233.26)">0.005</text>
<text x="535.43" y="314.90" text-anchor="middle">0.050</text>
<text x="393.80" y="167.68" text-anchor="middle" transform="rotate(-90 393.80 167.68)">0.050</text>
<text x="602.78" y="314.90" text-anchor="middle">0.500</text>
<text x="393.80" y="102.10" text-anchor="middle" transform="rotate(-90 393.80 102.10)">0.500</text>
<text x="670.13" y="314.90" text-anchor="middle">5.000</text>
<text x="393.80" y="36.52" text-anchor="middle" transform="rotate(-90 393.80 36.52)">5.000</text>
<text x="545.90" y="11.10" text-anchor="middle" font-weight="bold" font-size="14.65">(b) Species fine loading</text>
<text x="545.40" y="341.10" text-anchor="middle" font-size="12.2">W<tspan font-size="8.4" dy="2.5">fine</tspan><tspan dy="-2.5"> from species data&#160;&#160;(kg</tspan><tspan font-size="10"> · </tspan>m<tspan font-size="9" dy="-5.8" dx="0.3">−2</tspan><tspan dy="5.8" dx="0.8">)</tspan></text>
<text x="360.90" y="157.35" text-anchor="middle" transform="rotate(-90 360.90 157.35)">W<tspan font-size="8.4" dy="2.5">fine</tspan><tspan dy="-2.5"> as sum of individual biomass&#160;&#160;&#160;(kg</tspan><tspan font-size="10"> · </tspan>m<tspan font-size="9" dy="-5.8" dx="0.3">−2</tspan><tspan dy="5.8" dx="0.8">)</tspan></text>
<circle cx="422.20" cy="41.5" r="3.2" fill="#ff0000"/>
<circle cx="422.20" cy="56.3" r="3.2" fill="#000"/>
<text x="432.80" y="46.0" font-size="12.2">Bulk density</text>
<text x="432.80" y="61.0" font-size="12.2">Up-scaled allometries</text>
<clipPath id="clipc"><rect x="62.50" y="390.00" width="269.00" height="261.50"/></clipPath>
<g clip-path="url(#clipc)">
<g fill="#000"><circle cx="136.3" cy="571.4" r="1.55"/><circle cx="142.2" cy="571.8" r="1.55"/><circle cx="129.9" cy="575.8" r="1.55"/><circle cx="125.2" cy="579.3" r="1.55"/><circle cx="135.1" cy="578.8" r="1.55"/><circle cx="138.1" cy="578.2" r="1.55"/><circle cx="141.0" cy="581.1" r="1.55"/><circle cx="138.1" cy="584.2" r="1.55"/><circle cx="134.0" cy="587.5" r="1.55"/><circle cx="135.6" cy="587.5" r="1.55"/><circle cx="121.7" cy="585.8" r="1.55"/><circle cx="115.3" cy="586.4" r="1.55"/><circle cx="118.8" cy="586.4" r="1.55"/><circle cx="116.5" cy="591.0" r="1.55"/><circle cx="113.0" cy="591.6" r="1.55"/><circle cx="122.9" cy="589.3" r="1.55"/><circle cx="126.4" cy="588.7" r="1.55"/><circle cx="128.7" cy="592.8" r="1.55"/><circle cx="108.9" cy="595.7" r="1.55"/><circle cx="111.8" cy="595.1" r="1.55"/><circle cx="108.3" cy="599.2" r="1.55"/><circle cx="111.2" cy="602.1" r="1.55"/><circle cx="110.0" cy="603.9" r="1.55"/><circle cx="124.0" cy="596.9" r="1.55"/><circle cx="106.5" cy="608.0" r="1.55"/><circle cx="102.4" cy="610.3" r="1.55"/><circle cx="112.4" cy="614.4" r="1.55"/><circle cx="107.7" cy="620.8" r="1.55"/><circle cx="104.2" cy="623.7" r="1.55"/><circle cx="93.7" cy="621.4" r="1.55"/><circle cx="87.8" cy="627.2" r="1.55"/><circle cx="154.4" cy="590.4" r="1.55"/><circle cx="83.1" cy="635.9" r="1.55"/><circle cx="94.0" cy="620.7" r="1.55"/><circle cx="85.8" cy="630.5" r="1.55"/><circle cx="107.2" cy="620.4" r="1.55"/><circle cx="104.1" cy="623.5" r="1.55"/><circle cx="200.7" cy="511.2" r="1.55"/><circle cx="183.1" cy="515.3" r="1.55"/><circle cx="186.6" cy="521.1" r="1.55"/><circle cx="188.4" cy="522.3" r="1.55"/><circle cx="194.8" cy="517.0" r="1.55"/><circle cx="166.8" cy="530.4" r="1.55"/><circle cx="172.0" cy="531.6" r="1.55"/><circle cx="168.0" cy="536.3" r="1.55"/><circle cx="169.2" cy="536.3" r="1.55"/><circle cx="179.6" cy="535.7" r="1.55"/><circle cx="182.0" cy="539.2" r="1.55"/><circle cx="165.0" cy="541.5" r="1.55"/><circle cx="167.4" cy="543.3" r="1.55"/><circle cx="169.7" cy="545.0" r="1.55"/><circle cx="174.4" cy="545.0" r="1.55"/><circle cx="164.5" cy="545.6" r="1.55"/><circle cx="171.5" cy="550.3" r="1.55"/><circle cx="182.0" cy="548.5" r="1.55"/><circle cx="152.8" cy="548.5" r="1.55"/><circle cx="159.8" cy="550.3" r="1.55"/><circle cx="161.5" cy="552.0" r="1.55"/><circle cx="165.0" cy="555.5" r="1.55"/><circle cx="168.0" cy="557.9" r="1.55"/><circle cx="171.5" cy="557.9" r="1.55"/><circle cx="148.7" cy="556.7" r="1.55"/><circle cx="155.7" cy="556.1" r="1.55"/><circle cx="148.7" cy="560.2" r="1.55"/><circle cx="152.2" cy="562.6" r="1.55"/><circle cx="143.4" cy="560.8" r="1.55"/><circle cx="147.5" cy="567.2" r="1.55"/><circle cx="137.0" cy="570.1" r="1.55"/><circle cx="141.1" cy="571.3" r="1.55"/><circle cx="131.2" cy="575.4" r="1.55"/><circle cx="134.7" cy="577.7" r="1.55"/><circle cx="141.1" cy="580.7" r="1.55"/><circle cx="138.2" cy="584.2" r="1.55"/><circle cx="133.5" cy="587.7" r="1.55"/><circle cx="159.8" cy="571.9" r="1.55"/><circle cx="156.9" cy="587.7" r="1.55"/><circle cx="232.6" cy="460.4" r="1.55"/><circle cx="204.6" cy="489.6" r="1.55"/><circle cx="204.6" cy="491.4" r="1.55"/><circle cx="202.8" cy="501.9" r="1.55"/><circle cx="207.5" cy="500.7" r="1.55"/><circle cx="207.5" cy="503.0" r="1.55"/><circle cx="216.9" cy="495.5" r="1.55"/><circle cx="222.7" cy="489.1" r="1.55"/><circle cx="229.1" cy="486.7" r="1.55"/><circle cx="201.1" cy="510.7" r="1.55"/><circle cx="195.3" cy="517.1" r="1.55"/><circle cx="216.6" cy="519.2" r="1.55"/><circle cx="255.3" cy="431.5" r="1.55"/><circle cx="216.4" cy="519.5" r="1.55"/></g>
<g fill="#f00"><circle cx="150.3" cy="572.3" r="1.55"/><circle cx="151.5" cy="575.8" r="1.55"/><circle cx="151.5" cy="580.5" r="1.55"/><circle cx="140.4" cy="588.7" r="1.55"/><circle cx="145.1" cy="587.5" r="1.55"/><circle cx="148.0" cy="587.5" r="1.55"/><circle cx="143.3" cy="591.0" r="1.55"/><circle cx="146.8" cy="595.1" r="1.55"/><circle cx="138.1" cy="598.6" r="1.55"/><circle cx="134.6" cy="592.2" r="1.55"/><circle cx="132.2" cy="596.9" r="1.55"/><circle cx="130.5" cy="595.1" r="1.55"/><circle cx="128.7" cy="592.2" r="1.55"/><circle cx="125.2" cy="599.2" r="1.55"/><circle cx="128.1" cy="602.1" r="1.55"/><circle cx="128.7" cy="603.9" r="1.55"/><circle cx="128.7" cy="608.5" r="1.55"/><circle cx="118.2" cy="608.5" r="1.55"/><circle cx="116.5" cy="603.3" r="1.55"/><circle cx="113.5" cy="599.2" r="1.55"/><circle cx="110.0" cy="599.2" r="1.55"/><circle cx="114.7" cy="610.3" r="1.55"/><circle cx="110.6" cy="610.9" r="1.55"/><circle cx="114.1" cy="614.4" r="1.55"/><circle cx="104.2" cy="610.3" r="1.55"/><circle cx="103.0" cy="616.7" r="1.55"/><circle cx="104.8" cy="617.9" r="1.55"/><circle cx="101.9" cy="619.1" r="1.55"/><circle cx="104.2" cy="620.2" r="1.55"/><circle cx="97.2" cy="617.9" r="1.55"/><circle cx="98.9" cy="624.9" r="1.55"/><circle cx="96.0" cy="623.7" r="1.55"/><circle cx="92.5" cy="627.8" r="1.55"/><circle cx="88.4" cy="630.7" r="1.55"/><circle cx="122.3" cy="619.1" r="1.55"/><circle cx="77.3" cy="638.9" r="1.55"/><circle cx="110.4" cy="599.3" r="1.55"/><circle cx="114.2" cy="599.5" r="1.55"/><circle cx="116.6" cy="604.0" r="1.55"/><circle cx="118.1" cy="608.3" r="1.55"/><circle cx="111.1" cy="611.0" r="1.55"/><circle cx="115.0" cy="610.6" r="1.55"/><circle cx="103.3" cy="619.6" r="1.55"/><circle cx="104.1" cy="617.2" r="1.55"/><circle cx="91.7" cy="627.7" r="1.55"/><circle cx="97.1" cy="618.0" r="1.55"/><circle cx="112.7" cy="608.7" r="1.55"/><circle cx="153.4" cy="536.3" r="1.55"/><circle cx="188.4" cy="532.0" r="1.55"/><circle cx="177.9" cy="552.0" r="1.55"/><circle cx="175.0" cy="555.5" r="1.55"/><circle cx="163.9" cy="560.8" r="1.55"/><circle cx="194.8" cy="545.6" r="1.55"/><circle cx="193.6" cy="549.7" r="1.55"/><circle cx="195.5" cy="550.3" r="1.55"/><circle cx="202.4" cy="546.2" r="1.55"/><circle cx="205.9" cy="548.5" r="1.55"/><circle cx="209.4" cy="550.9" r="1.55"/><circle cx="203.0" cy="557.9" r="1.55"/><circle cx="205.9" cy="556.7" r="1.55"/><circle cx="197.2" cy="557.9" r="1.55"/><circle cx="193.6" cy="561.4" r="1.55"/><circle cx="194.8" cy="563.7" r="1.55"/><circle cx="183.7" cy="567.2" r="1.55"/><circle cx="180.8" cy="571.3" r="1.55"/><circle cx="197.2" cy="569.6" r="1.55"/><circle cx="175.5" cy="577.2" r="1.55"/><circle cx="187.8" cy="577.7" r="1.55"/><circle cx="165.0" cy="569.0" r="1.55"/><circle cx="167.4" cy="571.9" r="1.55"/><circle cx="162.7" cy="571.3" r="1.55"/><circle cx="158.6" cy="574.2" r="1.55"/><circle cx="150.4" cy="572.5" r="1.55"/><circle cx="151.0" cy="576.6" r="1.55"/><circle cx="151.6" cy="580.7" r="1.55"/><circle cx="163.9" cy="579.5" r="1.55"/><circle cx="167.4" cy="577.7" r="1.55"/><circle cx="160.4" cy="584.2" r="1.55"/><circle cx="166.2" cy="586.5" r="1.55"/><circle cx="201.8" cy="586.5" r="1.55"/><circle cx="141.7" cy="587.7" r="1.55"/><circle cx="146.4" cy="587.1" r="1.55"/><circle cx="268.1" cy="489.3" r="1.55"/><circle cx="252.4" cy="495.5" r="1.55"/><circle cx="273.9" cy="501.6" r="1.55"/><circle cx="274.5" cy="501.1" r="1.55"/><circle cx="236.0" cy="506.6" r="1.55"/><circle cx="256.5" cy="515.2" r="1.55"/><circle cx="264.1" cy="517.6" r="1.55"/><circle cx="278.0" cy="511.3" r="1.55"/><circle cx="271.6" cy="519.5" r="1.55"/><circle cx="228.4" cy="520.2" r="1.55"/><circle cx="245.0" cy="521.1" r="1.55"/><circle cx="237.7" cy="530.5" r="1.55"/><circle cx="211.4" cy="536.3" r="1.55"/><circle cx="217.8" cy="536.1" r="1.55"/><circle cx="228.9" cy="539.0" r="1.55"/><circle cx="226.0" cy="541.9" r="1.55"/><circle cx="225.4" cy="544.8" r="1.55"/><circle cx="232.8" cy="545.2" r="1.55"/><circle cx="247.3" cy="541.3" r="1.55"/><circle cx="206.2" cy="548.7" r="1.55"/><circle cx="206.2" cy="556.5" r="1.55"/><circle cx="221.9" cy="555.3" r="1.55"/><circle cx="307.2" cy="460.4" r="1.55"/><circle cx="307.0" cy="487.4" r="1.55"/><circle cx="292.8" cy="491.0" r="1.55"/><circle cx="222.5" cy="585.8" r="1.55"/><circle cx="227.0" cy="579.3" r="1.55"/></g>
<line x1="62.50" y1="654.47" x2="331.50" y2="386.04" stroke="#a6a6a6" stroke-width="1.6"/>
<line x1="62.50" y1="655.50" x2="331.50" y2="371.30" stroke="#000" stroke-width="1.3" stroke-dasharray="5.2 4.4"/>
<line x1="62.50" y1="638.06" x2="331.50" y2="478.43" stroke="#f00" stroke-width="1.3" stroke-dasharray="5.2 4.4"/>
</g>
<rect x="62.50" y="390.00" width="269.00" height="261.50" fill="none" stroke="#2b2b2b" stroke-width="1"/>
<line x1="75.50" y1="651.50" x2="75.50" y2="658.80" stroke="#2b2b2b" stroke-width="1.1"/>
<line x1="55.20" y1="641.50" x2="62.50" y2="641.50" stroke="#2b2b2b" stroke-width="1.1"/>
<line x1="115.95" y1="651.50" x2="115.95" y2="658.80" stroke="#2b2b2b" stroke-width="1.1"/>
<line x1="55.20" y1="601.13" x2="62.50" y2="601.13" stroke="#2b2b2b" stroke-width="1.1"/>
<line x1="156.40" y1="651.50" x2="156.40" y2="658.80" stroke="#2b2b2b" stroke-width="1.1"/>
<line x1="55.20" y1="560.77" x2="62.50" y2="560.77" stroke="#2b2b2b" stroke-width="1.1"/>
<line x1="196.85" y1="651.50" x2="196.85" y2="658.80" stroke="#2b2b2b" stroke-width="1.1"/>
<line x1="55.20" y1="520.40" x2="62.50" y2="520.40" stroke="#2b2b2b" stroke-width="1.1"/>
<line x1="237.30" y1="651.50" x2="237.30" y2="658.80" stroke="#2b2b2b" stroke-width="1.1"/>
<line x1="55.20" y1="480.04" x2="62.50" y2="480.04" stroke="#2b2b2b" stroke-width="1.1"/>
<line x1="277.75" y1="651.50" x2="277.75" y2="658.80" stroke="#2b2b2b" stroke-width="1.1"/>
<line x1="55.20" y1="439.67" x2="62.50" y2="439.67" stroke="#2b2b2b" stroke-width="1.1"/>
<line x1="318.20" y1="651.50" x2="318.20" y2="658.80" stroke="#2b2b2b" stroke-width="1.1"/>
<line x1="55.20" y1="399.31" x2="62.50" y2="399.31" stroke="#2b2b2b" stroke-width="1.1"/>
<text x="75.50" y="677.90" text-anchor="middle">0.0</text>
<text x="45.80" y="641.50" text-anchor="middle" transform="rotate(-90 45.80 641.50)">0.0</text>
<text x="115.95" y="677.90" text-anchor="middle">0.5</text>
<text x="45.80" y="601.13" text-anchor="middle" transform="rotate(-90 45.80 601.13)">0.5</text>
<text x="156.40" y="677.90" text-anchor="middle">1.0</text>
<text x="45.80" y="560.77" text-anchor="middle" transform="rotate(-90 45.80 560.77)">1.0</text>
<text x="196.85" y="677.90" text-anchor="middle">1.5</text>
<text x="45.80" y="520.40" text-anchor="middle" transform="rotate(-90 45.80 520.40)">1.5</text>
<text x="237.30" y="677.90" text-anchor="middle">2.0</text>
<text x="45.80" y="480.04" text-anchor="middle" transform="rotate(-90 45.80 480.04)">2.0</text>
<text x="277.75" y="677.90" text-anchor="middle">2.5</text>
<text x="45.80" y="439.67" text-anchor="middle" transform="rotate(-90 45.80 439.67)">2.5</text>
<text x="318.20" y="677.90" text-anchor="middle">3.0</text>
<text x="45.80" y="399.31" text-anchor="middle" transform="rotate(-90 45.80 399.31)">3.0</text>
<text x="197.00" y="373.60" text-anchor="middle" font-weight="bold" font-size="14.65">(c) Stand total loading</text>
<text x="197.30" y="704.10" text-anchor="middle" font-size="12.2">W<tspan font-size="8.4" dy="2.5">total</tspan><tspan dy="-2.5"> from species data&#160;&#160;(kg</tspan><tspan font-size="10"> · </tspan>m<tspan font-size="9" dy="-5.8" dx="0.3">−2</tspan><tspan dy="5.8" dx="0.8">)</tspan></text>
<text x="12.80" y="520.10" text-anchor="middle" transform="rotate(-90 12.80 520.10)">W<tspan font-size="8.4" dy="2.5">total</tspan><tspan dy="-2.5"> as sum of individual biomass&#160;&#160;&#160;(kg</tspan><tspan font-size="10"> · </tspan>m<tspan font-size="9" dy="-5.8" dx="0.3">−2</tspan><tspan dy="5.8" dx="0.8">)</tspan></text>
<line x1="65.20" y1="404.5" x2="88.00" y2="404.5" stroke="#f00" stroke-width="1.3" stroke-dasharray="4.6 2.4"/>
<circle cx="76.35" cy="404.5" r="2.85" fill="#f00"/>
<line x1="65.20" y1="418.45" x2="88.00" y2="418.45" stroke="#000" stroke-width="1.3" stroke-dasharray="4.6 2.4"/>
<circle cx="76.35" cy="418.45" r="2.85" fill="#000"/>
<text x="98.40" y="408.9" font-size="12.2">Bulk density</text>
<text x="98.40" y="423.6" font-size="12.2">Up-scaled allometries</text>
<clipPath id="clipd"><rect x="411.50" y="390.00" width="268.80" height="261.50"/></clipPath>
<g clip-path="url(#clipd)">
<g fill="#000"><circle cx="476.6" cy="571.8" r="1.55"/><circle cx="481.9" cy="572.6" r="1.55"/><circle cx="477.2" cy="574.9" r="1.55"/><circle cx="483.1" cy="576.4" r="1.55"/><circle cx="480.1" cy="578.8" r="1.55"/><circle cx="473.7" cy="580.7" r="1.55"/><circle cx="490.1" cy="570.6" r="1.55"/><circle cx="493.0" cy="571.8" r="1.55"/><circle cx="477.2" cy="584.0" r="1.55"/><circle cx="474.9" cy="586.4" r="1.55"/><circle cx="470.8" cy="587.5" r="1.55"/><circle cx="481.3" cy="588.1" r="1.55"/><circle cx="474.9" cy="589.3" r="1.55"/><circle cx="494.2" cy="581.7" r="1.55"/><circle cx="469.1" cy="593.4" r="1.55"/><circle cx="460.9" cy="595.1" r="1.55"/><circle cx="455.0" cy="597.7" r="1.55"/><circle cx="462.0" cy="598.0" r="1.55"/><circle cx="464.4" cy="599.8" r="1.55"/><circle cx="473.7" cy="598.0" r="1.55"/><circle cx="484.8" cy="598.0" r="1.55"/><circle cx="486.0" cy="599.8" r="1.55"/><circle cx="450.4" cy="603.3" r="1.55"/><circle cx="453.3" cy="604.5" r="1.55"/><circle cx="451.5" cy="606.2" r="1.55"/><circle cx="459.7" cy="605.0" r="1.55"/><circle cx="447.4" cy="609.1" r="1.55"/><circle cx="446.9" cy="612.0" r="1.55"/><circle cx="442.2" cy="613.2" r="1.55"/><circle cx="441.0" cy="615.5" r="1.55"/><circle cx="445.1" cy="615.0" r="1.55"/><circle cx="459.7" cy="609.1" r="1.55"/><circle cx="450.9" cy="624.3" r="1.55"/><circle cx="448.0" cy="626.6" r="1.55"/><circle cx="431.7" cy="631.3" r="1.55"/><circle cx="427.0" cy="636.6" r="1.55"/><circle cx="421.2" cy="642.4" r="1.55"/><circle cx="498.2" cy="593.4" r="1.55"/><circle cx="543.6" cy="500.2" r="1.55"/><circle cx="547.7" cy="534.1" r="1.55"/><circle cx="525.0" cy="535.0" r="1.55"/><circle cx="527.0" cy="534.6" r="1.55"/><circle cx="508.4" cy="537.4" r="1.55"/><circle cx="503.7" cy="540.9" r="1.55"/><circle cx="498.5" cy="546.5" r="1.55"/><circle cx="514.5" cy="545.8" r="1.55"/><circle cx="516.0" cy="545.5" r="1.55"/><circle cx="504.9" cy="550.8" r="1.55"/><circle cx="509.4" cy="549.1" r="1.55"/><circle cx="521.1" cy="552.6" r="1.55"/><circle cx="499.6" cy="558.4" r="1.55"/><circle cx="495.2" cy="564.0" r="1.55"/><circle cx="487.6" cy="566.3" r="1.55"/><circle cx="481.4" cy="565.6" r="1.55"/><circle cx="481.0" cy="567.2" r="1.55"/><circle cx="490.3" cy="570.0" r="1.55"/><circle cx="491.7" cy="571.2" r="1.55"/><circle cx="507.2" cy="570.3" r="1.55"/><circle cx="482.1" cy="573.0" r="1.55"/><circle cx="482.9" cy="576.5" r="1.55"/><circle cx="480.1" cy="567.7" r="1.55"/><circle cx="476.8" cy="571.9" r="1.55"/><circle cx="476.4" cy="574.7" r="1.55"/><circle cx="489.5" cy="570.3" r="1.55"/><circle cx="540.1" cy="586.6" r="1.55"/><circle cx="449.0" cy="607.0" r="1.55"/><circle cx="452.0" cy="602.0" r="1.55"/><circle cx="456.0" cy="601.0" r="1.55"/><circle cx="444.0" cy="611.0" r="1.55"/><circle cx="438.0" cy="620.0" r="1.55"/></g>
<g fill="#f00"><circle cx="473.7" cy="571.8" r="1.55"/><circle cx="486.6" cy="576.4" r="1.55"/><circle cx="489.5" cy="581.1" r="1.55"/><circle cx="487.2" cy="581.1" r="1.55"/><circle cx="481.3" cy="581.1" r="1.55"/><circle cx="494.7" cy="581.1" r="1.55"/><circle cx="496.5" cy="584.0" r="1.55"/><circle cx="498.8" cy="572.9" r="1.55"/><circle cx="460.3" cy="586.9" r="1.55"/><circle cx="483.1" cy="589.3" r="1.55"/><circle cx="487.2" cy="587.5" r="1.55"/><circle cx="489.5" cy="588.1" r="1.55"/><circle cx="485.4" cy="590.4" r="1.55"/><circle cx="478.4" cy="592.8" r="1.55"/><circle cx="463.8" cy="593.4" r="1.55"/><circle cx="471.4" cy="597.4" r="1.55"/><circle cx="458.5" cy="598.6" r="1.55"/><circle cx="468.5" cy="602.7" r="1.55"/><circle cx="467.9" cy="607.4" r="1.55"/><circle cx="463.8" cy="607.4" r="1.55"/><circle cx="464.4" cy="609.7" r="1.55"/><circle cx="466.1" cy="612.0" r="1.55"/><circle cx="458.5" cy="609.1" r="1.55"/><circle cx="452.7" cy="610.3" r="1.55"/><circle cx="456.2" cy="613.8" r="1.55"/><circle cx="458.5" cy="614.4" r="1.55"/><circle cx="461.5" cy="617.9" r="1.55"/><circle cx="448.6" cy="614.4" r="1.55"/><circle cx="441.0" cy="612.0" r="1.55"/><circle cx="431.7" cy="618.5" r="1.55"/><circle cx="441.6" cy="619.1" r="1.55"/><circle cx="442.8" cy="621.4" r="1.55"/><circle cx="445.7" cy="623.7" r="1.55"/><circle cx="449.8" cy="621.4" r="1.55"/><circle cx="459.7" cy="625.5" r="1.55"/><circle cx="443.4" cy="627.2" r="1.55"/><circle cx="441.0" cy="629.6" r="1.55"/><circle cx="438.7" cy="628.4" r="1.55"/><circle cx="436.4" cy="631.3" r="1.55"/><circle cx="480.7" cy="606.2" r="1.55"/><circle cx="480.7" cy="607.4" r="1.55"/><circle cx="484.2" cy="605.0" r="1.55"/><circle cx="486.0" cy="604.5" r="1.55"/><circle cx="484.2" cy="609.1" r="1.55"/><circle cx="480.1" cy="611.1" r="1.55"/><circle cx="493.0" cy="597.4" r="1.55"/><circle cx="497.7" cy="597.4" r="1.55"/><circle cx="424.7" cy="638.9" r="1.55"/><circle cx="439.9" cy="616.1" r="1.55"/><circle cx="533.1" cy="540.9" r="1.55"/><circle cx="534.7" cy="546.5" r="1.55"/><circle cx="549.3" cy="545.5" r="1.55"/><circle cx="528.5" cy="549.3" r="1.55"/><circle cx="539.6" cy="550.8" r="1.55"/><circle cx="546.6" cy="552.6" r="1.55"/><circle cx="525.3" cy="558.6" r="1.55"/><circle cx="515.3" cy="564.0" r="1.55"/><circle cx="519.5" cy="565.6" r="1.55"/><circle cx="534.9" cy="567.2" r="1.55"/><circle cx="551.2" cy="566.3" r="1.55"/><circle cx="543.6" cy="570.3" r="1.55"/><circle cx="521.1" cy="572.2" r="1.55"/><circle cx="499.6" cy="573.0" r="1.55"/><circle cx="502.2" cy="572.4" r="1.55"/><circle cx="509.8" cy="577.7" r="1.55"/><circle cx="504.5" cy="578.5" r="1.55"/><circle cx="485.8" cy="576.5" r="1.55"/><circle cx="626.6" cy="499.7" r="1.55"/><circle cx="635.2" cy="534.3" r="1.55"/><circle cx="567.4" cy="537.2" r="1.55"/><circle cx="576.9" cy="535.2" r="1.55"/><circle cx="495.7" cy="580.7" r="1.55"/><circle cx="501.3" cy="582.1" r="1.55"/><circle cx="505.5" cy="584.0" r="1.55"/><circle cx="504.2" cy="587.3" r="1.55"/><circle cx="509.4" cy="586.8" r="1.55"/><circle cx="517.3" cy="583.1" r="1.55"/><circle cx="500.1" cy="595.0" r="1.55"/><circle cx="500.5" cy="600.0" r="1.55"/><circle cx="519.8" cy="603.5" r="1.55"/><circle cx="536.6" cy="603.7" r="1.55"/><circle cx="541.2" cy="598.2" r="1.55"/><circle cx="443.0" cy="617.0" r="1.55"/><circle cx="446.0" cy="619.0" r="1.55"/><circle cx="444.0" cy="624.0" r="1.55"/><circle cx="447.0" cy="627.0" r="1.55"/><circle cx="442.0" cy="629.0" r="1.55"/><circle cx="445.0" cy="631.0" r="1.55"/><circle cx="448.0" cy="622.0" r="1.55"/><circle cx="450.0" cy="618.0" r="1.55"/><circle cx="455.0" cy="608.0" r="1.55"/><circle cx="458.0" cy="611.0" r="1.55"/><circle cx="461.0" cy="608.0" r="1.55"/><circle cx="464.0" cy="614.0" r="1.55"/><circle cx="457.0" cy="616.0" r="1.55"/><circle cx="452.0" cy="615.0" r="1.55"/><circle cx="440.0" cy="625.0" r="1.55"/><circle cx="438.0" cy="630.0" r="1.55"/></g>
<line x1="411.50" y1="654.47" x2="680.30" y2="386.24" stroke="#a6a6a6" stroke-width="1.6"/>
<line x1="411.50" y1="651.10" x2="680.30" y2="389.72" stroke="#000" stroke-width="1.3" stroke-dasharray="5.2 4.4"/>
<line x1="411.50" y1="638.54" x2="680.30" y2="480.14" stroke="#f00" stroke-width="1.3" stroke-dasharray="5.2 4.4"/>
</g>
<rect x="411.50" y="390.00" width="268.80" height="261.50" fill="none" stroke="#2b2b2b" stroke-width="1"/>
<line x1="424.50" y1="651.50" x2="424.50" y2="658.80" stroke="#2b2b2b" stroke-width="1.1"/>
<line x1="404.20" y1="641.50" x2="411.50" y2="641.50" stroke="#2b2b2b" stroke-width="1.1"/>
<line x1="464.95" y1="651.50" x2="464.95" y2="658.80" stroke="#2b2b2b" stroke-width="1.1"/>
<line x1="404.20" y1="601.13" x2="411.50" y2="601.13" stroke="#2b2b2b" stroke-width="1.1"/>
<line x1="505.40" y1="651.50" x2="505.40" y2="658.80" stroke="#2b2b2b" stroke-width="1.1"/>
<line x1="404.20" y1="560.77" x2="411.50" y2="560.77" stroke="#2b2b2b" stroke-width="1.1"/>
<line x1="545.85" y1="651.50" x2="545.85" y2="658.80" stroke="#2b2b2b" stroke-width="1.1"/>
<line x1="404.20" y1="520.40" x2="411.50" y2="520.40" stroke="#2b2b2b" stroke-width="1.1"/>
<line x1="586.30" y1="651.50" x2="586.30" y2="658.80" stroke="#2b2b2b" stroke-width="1.1"/>
<line x1="404.20" y1="480.04" x2="411.50" y2="480.04" stroke="#2b2b2b" stroke-width="1.1"/>
<line x1="626.75" y1="651.50" x2="626.75" y2="658.80" stroke="#2b2b2b" stroke-width="1.1"/>
<line x1="404.20" y1="439.67" x2="411.50" y2="439.67" stroke="#2b2b2b" stroke-width="1.1"/>
<line x1="667.20" y1="651.50" x2="667.20" y2="658.80" stroke="#2b2b2b" stroke-width="1.1"/>
<line x1="404.20" y1="399.31" x2="411.50" y2="399.31" stroke="#2b2b2b" stroke-width="1.1"/>
<text x="423.70" y="677.90" text-anchor="middle">0.0</text>
<text x="393.80" y="641.50" text-anchor="middle" transform="rotate(-90 393.80 641.50)">0.0</text>
<text x="464.15" y="677.90" text-anchor="middle">0.5</text>
<text x="393.80" y="601.13" text-anchor="middle" transform="rotate(-90 393.80 601.13)">0.5</text>
<text x="504.60" y="677.90" text-anchor="middle">1.0</text>
<text x="393.80" y="560.77" text-anchor="middle" transform="rotate(-90 393.80 560.77)">1.0</text>
<text x="545.05" y="677.90" text-anchor="middle">1.5</text>
<text x="393.80" y="520.40" text-anchor="middle" transform="rotate(-90 393.80 520.40)">1.5</text>
<text x="585.50" y="677.90" text-anchor="middle">2.0</text>
<text x="393.80" y="480.04" text-anchor="middle" transform="rotate(-90 393.80 480.04)">2.0</text>
<text x="625.95" y="677.90" text-anchor="middle">2.5</text>
<text x="393.80" y="439.67" text-anchor="middle" transform="rotate(-90 393.80 439.67)">2.5</text>
<text x="666.40" y="677.90" text-anchor="middle">3.0</text>
<text x="393.80" y="399.31" text-anchor="middle" transform="rotate(-90 393.80 399.31)">3.0</text>
<text x="545.90" y="373.60" text-anchor="middle" font-weight="bold" font-size="14.65">(d) Stand fine loading</text>
<text x="545.40" y="704.10" text-anchor="middle" font-size="12.2">W<tspan font-size="8.4" dy="2.5">fine</tspan><tspan dy="-2.5"> from species data&#160;&#160;(kg</tspan><tspan font-size="10"> · </tspan>m<tspan font-size="9" dy="-5.8" dx="0.3">−2</tspan><tspan dy="5.8" dx="0.8">)</tspan></text>
<text x="360.90" y="520.10" text-anchor="middle" transform="rotate(-90 360.90 520.10)">W<tspan font-size="8.4" dy="2.5">fine</tspan><tspan dy="-2.5"> as sum of individual biomass&#160;&#160;&#160;(kg</tspan><tspan font-size="10"> · </tspan>m<tspan font-size="9" dy="-5.8" dx="0.3">−2</tspan><tspan dy="5.8" dx="0.8">)</tspan></text>
<line x1="414.20" y1="404.5" x2="437.00" y2="404.5" stroke="#f00" stroke-width="1.3" stroke-dasharray="4.6 2.4"/>
<circle cx="425.35" cy="404.5" r="2.85" fill="#f00"/>
<line x1="414.20" y1="418.45" x2="437.00" y2="418.45" stroke="#000" stroke-width="1.3" stroke-dasharray="4.6 2.4"/>
<circle cx="425.35" cy="418.45" r="2.85" fill="#000"/>
<text x="447.40" y="408.9" font-size="12.2">Bulk density</text>
<text x="447.40" y="423.6" font-size="12.2">Up-scaled allometries</text>
</svg></body></html>
